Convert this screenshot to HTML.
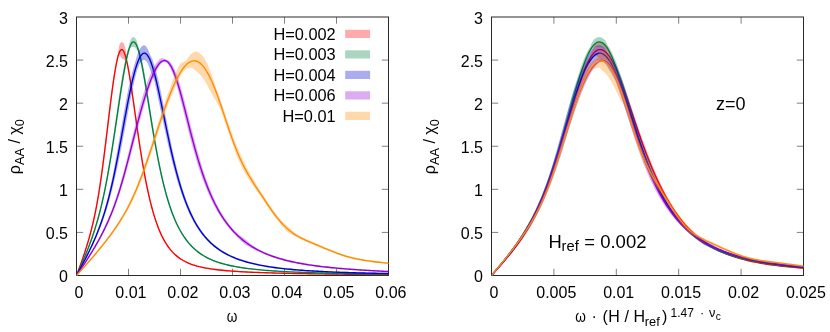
<!DOCTYPE html>
<html><head><meta charset="utf-8"><title>plot</title>
<style>html,body{margin:0;padding:0;background:#fff}svg{display:block;will-change:transform}</style>
</head><body>
<svg width="830" height="332" viewBox="0 0 830 332"
 font-family="'Liberation Sans', sans-serif" font-size="16" fill="#000">
<defs>
<clipPath id="c1"><rect x="76.5" y="17.0" width="312.0" height="259.0"/></clipPath>
<clipPath id="c2"><rect x="491.5" y="17.0" width="312.0" height="259.0"/></clipPath>
</defs>
<rect width="830" height="332" fill="#fff"/>
<path d="M76.5,232.42h6.7M388.5,232.42h-6.7M76.5,189.33h6.7M388.5,189.33h-6.7M76.5,146.25h6.7M388.5,146.25h-6.7M76.5,103.17h6.7M388.5,103.17h-6.7M76.5,60.08h6.7M388.5,60.08h-6.7M128.50,275.5v-6.7M128.50,17.0v6.7M180.50,275.5v-6.7M180.50,17.0v6.7M232.50,275.5v-6.7M232.50,17.0v6.7M284.50,275.5v-6.7M284.50,17.0v6.7M336.50,275.5v-6.7M336.50,17.0v6.7" stroke="#000" stroke-width="0.5" fill="none"/>
<rect x="76.5" y="17.0" width="312.0" height="258.50" fill="none" stroke="#2a2a2a" stroke-width="1"/>
<text x="68.0" y="282.1" text-anchor="end">0</text>
<text x="68.0" y="239.0" text-anchor="end">0.5</text>
<text x="68.0" y="195.9" text-anchor="end">1</text>
<text x="68.0" y="152.8" text-anchor="end">1.5</text>
<text x="68.0" y="109.8" text-anchor="end">2</text>
<text x="68.0" y="66.7" text-anchor="end">2.5</text>
<text x="68.0" y="23.6" text-anchor="end">3</text>
<text x="78.90" y="298.4" text-anchor="middle">0</text>
<text x="130.90" y="298.4" text-anchor="middle">0.01</text>
<text x="182.90" y="298.4" text-anchor="middle">0.02</text>
<text x="234.90" y="298.4" text-anchor="middle">0.03</text>
<text x="286.90" y="298.4" text-anchor="middle">0.04</text>
<text x="338.90" y="298.4" text-anchor="middle">0.05</text>
<text x="390.90" y="298.4" text-anchor="middle">0.06</text>
<path d="M491.5,232.42h6.7M803.5,232.42h-6.7M491.5,189.33h6.7M803.5,189.33h-6.7M491.5,146.25h6.7M803.5,146.25h-6.7M491.5,103.17h6.7M803.5,103.17h-6.7M491.5,60.08h6.7M803.5,60.08h-6.7M553.90,275.5v-6.7M553.90,17.0v6.7M616.30,275.5v-6.7M616.30,17.0v6.7M678.70,275.5v-6.7M678.70,17.0v6.7M741.10,275.5v-6.7M741.10,17.0v6.7" stroke="#000" stroke-width="0.5" fill="none"/>
<rect x="491.5" y="17.0" width="312.0" height="258.50" fill="none" stroke="#2a2a2a" stroke-width="1"/>
<text x="483.0" y="282.1" text-anchor="end">0</text>
<text x="483.0" y="239.0" text-anchor="end">0.5</text>
<text x="483.0" y="195.9" text-anchor="end">1</text>
<text x="483.0" y="152.8" text-anchor="end">1.5</text>
<text x="483.0" y="109.8" text-anchor="end">2</text>
<text x="483.0" y="66.7" text-anchor="end">2.5</text>
<text x="483.0" y="23.6" text-anchor="end">3</text>
<text x="493.90" y="298.4" text-anchor="middle">0</text>
<text x="556.30" y="298.4" text-anchor="middle">0.005</text>
<text x="618.70" y="298.4" text-anchor="middle">0.01</text>
<text x="681.10" y="298.4" text-anchor="middle">0.015</text>
<text x="743.50" y="298.4" text-anchor="middle">0.02</text>
<text x="805.90" y="298.4" text-anchor="middle">0.025</text>
<g clip-path="url(#c1)">
<path d="M76.50,275.50L77.36,273.06L78.22,270.61L79.08,268.16L79.92,265.71L80.75,263.25L81.57,260.80L82.38,258.35L83.17,255.90L83.95,253.45L84.72,251.01L85.47,248.56L86.20,246.12L86.92,243.69L87.62,241.26L88.30,238.84L88.97,236.43L89.62,234.03L90.25,231.64L90.87,229.24L91.47,226.84L92.05,224.42L92.62,222.00L93.17,219.57L93.71,217.13L94.23,214.69L94.73,212.23L95.22,209.77L95.70,207.31L96.16,204.83L96.61,202.35L97.05,199.87L97.48,197.38L97.90,194.89L98.31,192.39L98.71,189.89L99.10,187.39L99.48,184.88L99.86,182.38L100.22,179.87L100.58,177.37L100.94,174.86L101.29,172.36L101.63,169.85L101.97,167.34L102.30,164.84L102.63,162.34L102.96,159.83L103.28,157.33L103.60,154.83L103.91,152.33L104.22,149.84L104.53,147.34L104.84,144.85L105.15,142.36L105.45,139.87L105.75,137.39L106.05,134.91L106.35,132.43L106.65,129.95L106.95,127.47L107.25,125.00L107.54,122.53L107.84,120.07L108.14,117.61L108.44,115.15L108.73,112.70L109.03,110.26L109.33,107.82L109.63,105.38L109.94,102.96L110.24,100.54L110.55,98.12L110.86,95.72L111.17,93.32L111.49,90.93L111.81,88.55L112.13,86.17L112.46,83.81L112.79,81.47L113.13,79.13L113.48,76.81L113.84,74.50L114.20,72.22L114.58,69.95L114.97,67.71L115.37,65.50L115.79,63.33L116.23,61.20L116.69,59.13L117.18,57.14L117.70,54.52L118.25,51.26L118.81,47.93L119.37,45.20L119.87,44.04L120.28,43.29L120.63,42.80L120.94,42.47L121.25,42.24L121.57,42.11L121.91,42.08L122.23,42.15L122.54,42.32L122.86,42.58L123.20,42.99L123.61,43.62L124.11,44.61L124.68,46.02L125.27,47.89L125.83,51.34L126.37,55.28L126.88,58.75L127.37,61.13L127.83,63.28L128.28,65.47L128.71,67.71L129.12,69.97L129.52,72.26L129.92,74.57L130.30,76.90L130.68,79.24L131.06,81.60L131.42,83.98L131.79,86.36L132.14,88.76L132.50,91.17L132.85,93.59L133.20,96.01L133.55,98.44L133.90,100.88L134.25,103.33L134.60,105.78L134.94,108.24L135.29,110.70L135.64,113.17L135.99,115.63L136.34,118.10L136.69,120.58L137.04,123.05L137.39,125.53L137.75,128.00L138.11,130.48L138.47,132.96L138.83,135.44L139.20,137.92L139.57,140.41L139.94,142.89L140.32,145.37L140.70,147.85L141.09,150.34L141.48,152.82L141.88,155.30L142.28,157.78L142.69,160.26L143.11,162.74L143.53,165.22L143.96,167.70L144.40,170.17L144.84,172.64L145.30,175.11L145.76,177.58L146.23,180.04L146.71,182.50L147.21,184.95L147.71,187.40L148.23,189.85L148.75,192.29L149.30,194.72L149.85,197.15L150.42,199.57L151.01,201.98L151.62,204.38L152.24,206.77L152.88,209.15L153.54,211.51L154.23,213.86L154.93,216.19L155.66,218.51L156.42,220.81L157.21,223.08L158.02,225.33L158.87,227.55L159.75,229.74L160.66,231.90L161.61,234.02L162.60,236.10L163.63,238.14L164.71,240.12L165.83,242.05L166.99,243.92L168.20,245.73L169.47,247.48L170.78,249.15L172.14,250.75L173.56,252.28L175.03,253.73L176.56,255.10L178.14,256.40L179.78,257.62L181.48,258.76L183.23,259.83L185.05,260.82L186.91,261.75L188.84,262.61L190.81,263.41L192.84,264.14L194.92,264.82L197.04,265.44L199.19,266.01L201.39,266.53L203.62,267.01L205.88,267.46L208.16,267.86L210.47,268.23L212.80,268.57L215.15,268.89L217.51,269.18L219.89,269.45L222.27,269.69L224.67,269.92L227.08,270.14L229.50,270.33L231.92,270.52L234.35,270.69L236.78,270.85L239.22,271.00L241.67,271.15L244.11,271.28L246.56,271.40L249.02,271.52L251.47,271.63L253.93,271.74L256.39,271.84L258.85,271.94L261.32,272.03L263.78,272.11L266.25,272.19L268.72,272.27L271.19,272.35L273.66,272.42L276.13,272.48L278.60,272.55L281.07,272.61L283.55,272.67L286.02,272.73L288.50,272.79L290.97,272.84L293.45,272.89L295.93,272.94L298.40,272.99L300.88,273.03L303.36,273.08L305.84,273.12L308.32,273.16L310.79,273.20L313.27,273.24L315.75,273.28L318.23,273.32L320.71,273.35L323.19,273.39L325.67,273.42L328.15,273.45L330.63,273.49L333.11,273.52L335.60,273.55L338.08,273.57L340.56,273.60L343.04,273.63L345.52,273.66L348.00,273.68L350.48,273.71L352.97,273.73L355.45,273.76L357.93,273.78L360.41,273.81L362.89,273.83L365.38,273.85L367.86,273.87L370.34,273.89L372.82,273.91L375.31,273.93L377.79,273.95L380.27,273.97L382.75,273.99L385.24,274.01L387.72,274.03L390.20,274.05L392.68,274.06L395.17,274.08L397.65,274.10L400.13,274.11L402.62,274.13L405.10,274.14L407.58,274.16L410.07,274.17L412.55,274.19L415.03,274.20L417.52,274.22L420.00,274.23L420.00,275.23L417.52,275.22L415.03,275.21L412.55,275.20L410.07,275.19L407.58,275.18L405.10,275.17L402.62,275.16L400.13,275.15L397.65,275.13L395.17,275.12L392.68,275.11L390.20,275.09L387.72,275.08L385.24,275.07L382.75,275.05L380.27,275.04L377.79,275.02L375.31,275.00L372.82,274.99L370.34,274.97L367.86,274.95L365.38,274.93L362.89,274.91L360.41,274.90L357.93,274.88L355.45,274.85L352.97,274.83L350.48,274.81L348.00,274.79L345.52,274.76L343.04,274.74L340.56,274.72L338.08,274.69L335.60,274.66L333.11,274.64L330.63,274.61L328.15,274.58L325.67,274.55L323.19,274.52L320.71,274.48L318.23,274.45L315.75,274.42L313.27,274.38L310.79,274.34L308.32,274.31L305.84,274.27L303.36,274.22L300.88,274.18L298.40,274.14L295.93,274.09L293.45,274.04L290.97,273.99L288.50,273.94L286.02,273.89L283.55,273.83L281.07,273.77L278.60,273.71L276.13,273.65L273.66,273.58L271.19,273.51L268.72,273.44L266.25,273.36L263.78,273.28L261.32,273.20L258.85,273.11L256.39,273.02L253.93,272.92L251.47,272.81L249.02,272.70L246.56,272.58L244.11,272.46L241.67,272.33L239.22,272.19L236.78,272.04L234.35,271.88L231.92,271.71L229.50,271.52L227.08,271.33L224.67,271.11L222.27,270.89L219.89,270.64L217.51,270.37L215.15,270.09L212.80,269.77L210.47,269.44L208.16,269.07L205.88,268.67L203.62,268.23L201.39,267.76L199.19,267.24L197.04,266.68L194.92,266.06L192.84,265.40L190.81,264.68L188.84,263.91L186.91,263.07L185.05,262.17L183.23,261.20L181.48,260.17L179.78,259.07L178.14,257.90L176.56,256.66L175.03,255.35L173.56,253.98L172.14,252.53L170.78,251.01L169.47,249.43L168.20,247.79L166.99,246.09L165.83,244.33L164.71,242.52L163.63,240.65L162.60,238.75L161.61,236.80L160.66,234.82L159.75,232.80L158.87,230.75L158.02,228.68L157.21,226.57L156.42,224.45L155.66,222.30L154.93,220.13L154.23,217.95L153.54,215.75L152.88,213.54L152.24,211.31L151.62,209.07L151.01,206.82L150.42,204.56L149.85,202.29L149.30,200.01L148.75,197.72L148.23,195.42L147.71,193.12L147.21,190.81L146.71,188.50L146.23,186.17L145.76,183.85L145.30,181.51L144.84,179.17L144.40,176.83L143.96,174.48L143.53,172.13L143.11,169.77L142.69,167.41L142.28,165.04L141.88,162.67L141.48,160.29L141.09,157.92L140.70,155.53L140.32,153.14L139.94,150.75L139.57,148.36L139.20,145.96L138.83,143.55L138.47,141.14L138.11,138.73L137.75,136.32L137.39,133.90L137.04,131.47L136.69,129.04L136.34,126.61L135.99,124.17L135.64,121.72L135.29,119.27L134.94,116.82L134.60,114.36L134.25,111.90L133.90,109.43L133.55,106.96L133.20,104.49L132.85,102.01L132.50,99.53L132.14,97.05L131.79,94.57L131.42,92.08L131.06,89.58L130.68,87.09L130.30,84.59L129.92,82.08L129.52,79.58L129.12,77.07L128.71,74.57L128.28,72.06L127.83,69.56L127.37,67.07L126.88,64.61L126.37,62.84L125.83,61.94L125.27,61.21L124.68,60.30L124.11,59.63L123.61,59.22L123.20,58.98L122.86,58.84L122.54,58.73L122.23,58.65L121.91,58.55L121.57,58.25L121.25,57.75L120.94,57.16L120.63,56.54L120.28,55.93L119.87,55.44L119.37,55.44L118.81,56.19L118.25,57.81L117.70,60.10L117.18,62.50L116.69,64.96L116.23,67.45L115.79,69.97L115.37,72.49L114.97,75.02L114.58,77.55L114.20,80.08L113.84,82.61L113.48,85.14L113.13,87.67L112.79,90.19L112.46,92.71L112.13,95.22L111.81,97.74L111.49,100.25L111.17,102.75L110.86,105.25L110.55,107.75L110.24,110.25L109.94,112.74L109.63,115.23L109.33,117.71L109.03,120.20L108.73,122.68L108.44,125.15L108.14,127.62L107.84,130.09L107.54,132.56L107.25,135.02L106.95,137.48L106.65,139.93L106.35,142.38L106.05,144.82L105.75,147.26L105.45,149.69L105.15,152.12L104.84,154.54L104.53,156.96L104.22,159.38L103.91,161.79L103.60,164.19L103.28,166.60L102.96,168.99L102.63,171.38L102.30,173.77L101.97,176.15L101.63,178.52L101.29,180.89L100.94,183.26L100.58,185.62L100.22,187.97L99.86,190.32L99.48,192.66L99.10,195.00L98.71,197.33L98.31,199.66L97.90,201.98L97.48,204.29L97.05,206.60L96.61,208.90L96.16,211.20L95.70,213.50L95.22,215.79L94.73,218.07L94.23,220.36L93.71,222.64L93.17,224.91L92.62,227.19L92.05,229.46L91.47,231.73L90.87,234.00L90.25,236.27L89.62,238.53L88.97,240.78L88.30,243.01L87.62,245.22L86.92,247.41L86.20,249.59L85.47,251.76L84.72,253.91L83.95,256.06L83.17,258.21L82.38,260.35L81.57,262.49L80.75,264.63L79.92,266.78L79.08,268.94L78.22,271.11L77.36,273.30L76.50,275.50Z" fill="#ff0000" fill-opacity="0.33"/>
<path d="M76.50,275.50L77.36,273.18L78.22,270.86L79.08,268.55L79.92,266.24L80.75,263.94L81.57,261.65L82.38,259.35L83.17,257.05L83.95,254.76L84.72,252.46L85.47,250.16L86.20,247.86L86.92,245.55L87.62,243.24L88.30,240.92L88.97,238.60L89.62,236.28L90.25,233.95L90.87,231.62L91.47,229.28L92.05,226.94L92.62,224.59L93.17,222.24L93.71,219.88L94.23,217.52L94.73,215.15L95.22,212.78L95.70,210.40L96.16,208.02L96.61,205.63L97.05,203.23L97.48,200.83L97.90,198.43L98.31,196.02L98.71,193.61L99.10,191.19L99.48,188.77L99.86,186.35L100.22,183.92L100.58,181.49L100.94,179.06L101.29,176.62L101.63,174.19L101.97,171.75L102.30,169.30L102.63,166.86L102.96,164.41L103.28,161.96L103.60,159.51L103.91,157.06L104.22,154.61L104.53,152.15L104.84,149.70L105.15,147.24L105.45,144.78L105.75,142.32L106.05,139.86L106.35,137.40L106.65,134.94L106.95,132.47L107.25,130.01L107.54,127.55L107.84,125.08L108.14,122.62L108.44,120.15L108.73,117.69L109.03,115.23L109.33,112.77L109.63,110.31L109.94,107.85L110.24,105.39L110.55,102.94L110.86,100.48L111.17,98.03L111.49,95.59L111.81,93.14L112.13,90.70L112.46,88.26L112.79,85.83L113.13,83.40L113.48,80.97L113.84,78.56L114.20,76.15L114.58,73.75L114.97,71.37L115.37,69.00L115.79,66.65L116.23,64.33L116.69,62.05L117.18,59.82L117.70,57.68L118.25,55.67L118.81,53.88L119.37,52.41L119.87,51.35L120.28,50.66L120.63,50.21L120.94,49.90L121.25,49.69L121.57,49.58L121.91,49.57L122.23,49.67L122.54,49.87L122.86,50.16L123.20,50.59L123.61,51.25L124.11,52.28L124.68,53.71L125.27,55.48L125.83,57.48L126.37,59.61L126.88,61.83L127.37,64.10L127.83,66.42L128.28,68.77L128.71,71.14L129.12,73.52L129.52,75.92L129.92,78.33L130.30,80.74L130.68,83.16L131.06,85.59L131.42,88.03L131.79,90.46L132.14,92.91L132.50,95.35L132.85,97.80L133.20,100.25L133.55,102.70L133.90,105.16L134.25,107.61L134.60,110.07L134.94,112.53L135.29,114.99L135.64,117.44L135.99,119.90L136.34,122.35L136.69,124.81L137.04,127.26L137.39,129.71L137.75,132.16L138.11,134.61L138.47,137.05L138.83,139.50L139.20,141.94L139.57,144.38L139.94,146.82L140.32,149.26L140.70,151.69L141.09,154.13L141.48,156.56L141.88,158.99L142.28,161.41L142.69,163.83L143.11,166.26L143.53,168.67L143.96,171.09L144.40,173.50L144.84,175.91L145.30,178.31L145.76,180.71L146.23,183.11L146.71,185.50L147.21,187.88L147.71,190.26L148.23,192.64L148.75,195.00L149.30,197.37L149.85,199.72L150.42,202.06L151.01,204.40L151.62,206.72L152.24,209.04L152.88,211.34L153.54,213.63L154.23,215.91L154.93,218.16L155.66,220.41L156.42,222.63L157.21,224.83L158.02,227.00L158.87,229.15L159.75,231.27L160.66,233.36L161.61,235.41L162.60,237.43L163.63,239.40L164.71,241.32L165.83,243.19L166.99,245.00L168.20,246.76L169.47,248.45L170.78,250.08L172.14,251.64L173.56,253.13L175.03,254.54L176.56,255.88L178.14,257.15L179.78,258.34L181.48,259.47L183.23,260.52L185.05,261.50L186.91,262.41L188.84,263.26L190.81,264.04L192.84,264.77L194.92,265.44L197.04,266.06L199.19,266.62L201.39,267.14L203.62,267.62L205.88,268.06L208.16,268.46L210.47,268.83L212.80,269.17L215.15,269.49L217.51,269.78L219.89,270.04L222.27,270.29L224.67,270.52L227.08,270.73L229.50,270.93L231.92,271.11L234.35,271.28L236.78,271.44L239.22,271.60L241.67,271.74L244.11,271.87L246.56,271.99L249.02,272.11L251.47,272.22L253.93,272.33L256.39,272.43L258.85,272.52L261.32,272.61L263.78,272.70L266.25,272.78L268.72,272.86L271.19,272.93L273.66,273.00L276.13,273.07L278.60,273.13L281.07,273.19L283.55,273.25L286.02,273.31L288.50,273.36L290.97,273.42L293.45,273.47L295.93,273.52L298.40,273.56L300.88,273.61L303.36,273.65L305.84,273.69L308.32,273.73L310.79,273.77L313.27,273.81L315.75,273.85L318.23,273.88L320.71,273.92L323.19,273.95L325.67,273.98L328.15,274.02L330.63,274.05L333.11,274.08L335.60,274.10L338.08,274.13L340.56,274.16L343.04,274.19L345.52,274.21L348.00,274.24L350.48,274.26L352.97,274.28L355.45,274.31L357.93,274.33L360.41,274.35L362.89,274.37L365.38,274.39L367.86,274.41L370.34,274.43L372.82,274.45L375.31,274.47L377.79,274.49L380.27,274.50L382.75,274.52L385.24,274.54L387.72,274.55L390.20,274.57L392.68,274.59L395.17,274.60L397.65,274.62L400.13,274.63L402.62,274.64L405.10,274.66L407.58,274.67L410.07,274.68L412.55,274.70L415.03,274.71L417.52,274.72L420.00,274.73" fill="none" stroke="#ff0000" stroke-width="1.35" stroke-linejoin="round"/>
<path d="M76.50,275.50L77.51,273.11L78.52,270.72L79.52,268.34L80.51,265.96L81.48,263.60L82.45,261.24L83.41,258.88L84.35,256.53L85.27,254.19L86.18,251.85L87.08,249.52L87.96,247.20L88.82,244.88L89.66,242.57L90.49,240.27L91.30,237.96L92.09,235.64L92.87,233.32L93.63,230.99L94.37,228.66L95.09,226.32L95.80,223.97L96.49,221.61L97.16,219.25L97.82,216.88L98.46,214.50L99.09,212.11L99.70,209.72L100.29,207.31L100.87,204.91L101.44,202.49L102.00,200.07L102.54,197.64L103.07,195.20L103.59,192.76L104.10,190.32L104.59,187.87L105.08,185.41L105.56,182.95L106.03,180.49L106.49,178.02L106.94,175.55L107.39,173.08L107.82,170.60L108.25,168.12L108.68,165.64L109.10,163.16L109.51,160.67L109.92,158.19L110.32,155.69L110.72,153.19L111.11,150.69L111.50,148.17L111.89,145.65L112.27,143.12L112.65,140.59L113.03,138.05L113.40,135.51L113.77,132.97L114.14,130.42L114.51,127.88L114.88,125.33L115.24,122.79L115.60,120.24L115.96,117.70L116.33,115.16L116.69,112.63L117.05,110.10L117.41,107.58L117.77,105.07L118.13,102.57L118.49,100.07L118.85,97.59L119.21,95.13L119.58,92.67L119.94,90.23L120.31,87.81L120.69,85.41L121.06,83.02L121.44,80.66L121.82,78.31L122.21,75.99L122.60,73.68L123.00,71.39L123.41,69.12L123.82,66.87L124.25,64.64L124.68,62.43L125.13,60.25L125.59,58.10L126.07,55.99L126.56,53.93L127.08,51.93L127.62,49.99L128.19,48.15L128.79,46.17L129.42,43.20L130.07,40.88L130.72,39.51L131.31,38.56L131.83,37.95L132.27,37.58L132.66,37.34L133.04,37.19L133.42,37.12L133.80,37.14L134.18,37.27L134.57,37.50L134.98,37.87L135.45,38.44L136.01,39.31L136.63,40.54L137.29,42.72L137.94,45.57L138.57,47.22L139.17,49.02L139.74,50.92L140.28,52.90L140.80,54.95L141.29,57.05L141.78,59.19L142.24,61.37L142.70,63.58L143.14,65.82L143.58,68.08L144.01,70.36L144.43,72.66L144.84,74.98L145.25,77.31L145.66,79.67L146.06,82.04L146.46,84.44L146.85,86.85L147.25,89.28L147.64,91.72L148.03,94.18L148.42,96.65L148.81,99.14L149.20,101.63L149.59,104.13L149.98,106.64L150.38,109.15L150.77,111.67L151.16,114.20L151.56,116.73L151.96,119.26L152.36,121.79L152.76,124.32L153.17,126.86L153.58,129.39L153.99,131.93L154.41,134.46L154.83,136.99L155.26,139.52L155.69,142.04L156.13,144.56L156.57,147.08L157.02,149.58L157.48,152.09L157.94,154.58L158.41,157.06L158.89,159.54L159.37,162.01L159.87,164.46L160.37,166.91L160.88,169.35L161.41,171.78L161.94,174.22L162.49,176.64L163.04,179.07L163.61,181.48L164.20,183.89L164.79,186.30L165.41,188.69L166.03,191.08L166.68,193.45L167.34,195.82L168.02,198.17L168.72,200.51L169.44,202.84L170.19,205.16L170.95,207.45L171.74,209.73L172.56,211.99L173.40,214.23L174.27,216.45L175.17,218.64L176.11,220.81L177.07,222.94L178.07,225.05L179.10,227.12L180.17,229.15L181.28,231.14L182.43,233.09L183.62,235.00L184.86,236.86L186.13,238.66L187.45,240.42L188.82,242.12L190.23,243.76L191.69,245.35L193.19,246.87L194.74,248.34L196.34,249.74L197.99,251.08L199.69,252.36L201.43,253.58L203.22,254.73L205.05,255.83L206.93,256.87L208.85,257.85L210.81,258.77L212.82,259.64L214.86,260.46L216.94,261.23L219.05,261.95L221.19,262.63L223.36,263.26L225.56,263.85L227.78,264.41L230.02,264.93L232.29,265.41L234.57,265.87L236.87,266.30L239.19,266.69L241.52,267.07L243.86,267.42L246.21,267.75L248.58,268.06L250.95,268.35L253.33,268.62L255.72,268.88L258.11,269.12L260.51,269.35L262.92,269.56L265.33,269.77L267.75,269.96L270.17,270.14L272.59,270.31L275.02,270.48L277.45,270.63L279.88,270.78L282.31,270.92L284.75,271.06L287.19,271.18L289.63,271.30L292.07,271.42L294.52,271.53L296.96,271.64L299.41,271.74L301.86,271.83L304.31,271.92L306.76,272.01L309.21,272.10L311.67,272.18L314.12,272.26L316.57,272.33L319.03,272.40L321.49,272.47L323.94,272.54L326.40,272.60L328.86,272.66L331.32,272.72L333.77,272.78L336.23,272.83L338.69,272.88L341.15,272.93L343.61,272.98L346.08,273.03L348.54,273.08L351.00,273.12L353.46,273.16L355.92,273.20L358.38,273.24L360.85,273.28L363.31,273.32L365.77,273.35L368.24,273.39L370.70,273.42L373.16,273.45L375.63,273.49L378.09,273.52L380.56,273.55L383.02,273.58L385.48,273.60L387.95,273.63L390.41,273.66L392.88,273.68L395.34,273.71L397.81,273.73L400.27,273.75L402.74,273.78L405.21,273.80L407.67,273.82L410.14,273.84L412.60,273.86L415.07,273.88L417.53,273.90L420.00,273.92L420.00,274.92L417.53,274.90L415.07,274.88L412.60,274.86L410.14,274.84L407.67,274.82L405.21,274.80L402.74,274.78L400.27,274.75L397.81,274.73L395.34,274.71L392.88,274.68L390.41,274.66L387.95,274.63L385.48,274.61L383.02,274.58L380.56,274.55L378.09,274.52L375.63,274.49L373.16,274.46L370.70,274.43L368.24,274.40L365.77,274.36L363.31,274.33L360.85,274.29L358.38,274.25L355.92,274.22L353.46,274.18L351.00,274.13L348.54,274.09L346.08,274.05L343.61,274.00L341.15,273.95L338.69,273.90L336.23,273.85L333.77,273.80L331.32,273.75L328.86,273.69L326.40,273.63L323.94,273.57L321.49,273.50L319.03,273.44L316.57,273.37L314.12,273.30L311.67,273.22L309.21,273.14L306.76,273.06L304.31,272.98L301.86,272.89L299.41,272.79L296.96,272.69L294.52,272.59L292.07,272.49L289.63,272.37L287.19,272.26L284.75,272.13L282.31,272.00L279.88,271.86L277.45,271.72L275.02,271.57L272.59,271.41L270.17,271.24L267.75,271.06L265.33,270.87L262.92,270.68L260.51,270.46L258.11,270.24L255.72,270.00L253.33,269.75L250.95,269.48L248.58,269.20L246.21,268.90L243.86,268.58L241.52,268.23L239.19,267.86L236.87,267.47L234.57,267.06L232.29,266.61L230.02,266.13L227.78,265.62L225.56,265.08L223.36,264.50L221.19,263.88L219.05,263.22L216.94,262.51L214.86,261.76L212.82,260.96L210.81,260.11L208.85,259.21L206.93,258.26L205.05,257.26L203.22,256.19L201.43,255.08L199.69,253.90L197.99,252.67L196.34,251.39L194.74,250.04L193.19,248.64L191.69,247.19L190.23,245.68L188.82,244.12L187.45,242.50L186.13,240.84L184.86,239.13L183.62,237.37L182.43,235.58L181.28,233.74L180.17,231.86L179.10,229.95L178.07,228.01L177.07,226.04L176.11,224.04L175.17,222.01L174.27,219.96L173.40,217.89L172.56,215.79L171.74,213.68L170.95,211.55L170.19,209.40L169.44,207.24L168.72,205.06L168.02,202.88L167.34,200.68L166.68,198.46L166.03,196.24L165.41,194.01L164.79,191.77L164.20,189.52L163.61,187.27L163.04,185.00L162.49,182.73L161.94,180.45L161.41,178.17L160.88,175.88L160.37,173.58L159.87,171.28L159.37,168.98L158.89,166.68L158.41,164.39L157.94,162.09L157.48,159.80L157.02,157.51L156.57,155.22L156.13,152.93L155.69,150.64L155.26,148.35L154.83,146.06L154.41,143.77L153.99,141.48L153.58,139.18L153.17,136.88L152.76,134.57L152.36,132.26L151.96,129.95L151.56,127.63L151.16,125.30L150.77,122.97L150.38,120.63L149.98,118.28L149.59,115.92L149.20,113.55L148.81,111.18L148.42,108.79L148.03,106.40L147.64,103.99L147.25,101.57L146.85,99.15L146.46,96.71L146.06,94.26L145.66,91.80L145.25,89.33L144.84,86.84L144.43,84.35L144.01,81.85L143.58,79.34L143.14,76.83L142.70,74.31L142.24,71.79L141.78,69.26L141.29,66.74L140.80,64.21L140.28,61.69L139.74,59.18L139.17,56.70L138.57,54.26L137.94,51.90L137.29,50.61L136.63,49.66L136.01,48.68L135.45,48.00L134.98,47.56L134.57,47.28L134.18,47.11L133.80,47.02L133.42,47.02L133.04,47.06L132.66,47.07L132.27,47.07L131.83,47.11L131.31,47.27L130.72,47.70L130.07,48.81L129.42,50.93L128.79,53.24L128.19,55.66L127.62,58.14L127.08,60.66L126.56,63.19L126.07,65.73L125.59,68.27L125.13,70.82L124.68,73.36L124.25,75.89L123.82,78.43L123.41,80.95L123.00,83.47L122.60,85.99L122.21,88.50L121.82,91.01L121.44,93.50L121.06,95.97L120.69,98.43L120.31,100.88L119.94,103.31L119.58,105.74L119.21,108.15L118.85,110.55L118.49,112.94L118.13,115.32L117.77,117.70L117.41,120.06L117.05,122.42L116.69,124.77L116.33,127.12L115.96,129.46L115.60,131.79L115.24,134.12L114.88,136.45L114.51,138.77L114.14,141.09L113.77,143.40L113.40,145.72L113.03,148.04L112.65,150.35L112.27,152.67L111.89,154.99L111.50,157.31L111.11,159.63L110.72,161.96L110.32,164.29L109.92,166.63L109.51,168.96L109.10,171.30L108.68,173.63L108.25,175.95L107.82,178.27L107.39,180.59L106.94,182.91L106.49,185.22L106.03,187.53L105.56,189.84L105.08,192.14L104.59,194.43L104.10,196.73L103.59,199.02L103.07,201.30L102.54,203.58L102.00,205.85L101.44,208.12L100.87,210.39L100.29,212.65L99.70,214.90L99.09,217.15L98.46,219.40L97.82,221.64L97.16,223.88L96.49,226.11L95.80,228.34L95.09,230.56L94.37,232.78L93.63,235.00L92.87,237.21L92.09,239.41L91.30,241.61L90.49,243.80L89.66,245.99L88.82,248.16L87.96,250.31L87.08,252.45L86.18,254.58L85.27,256.69L84.35,258.79L83.41,260.89L82.45,262.98L81.48,265.06L80.51,267.14L79.52,269.23L78.52,271.31L77.51,273.40L76.50,275.50Z" fill="#008040" fill-opacity="0.33"/>
<path d="M76.50,275.50L77.51,273.25L78.52,271.02L79.52,268.78L80.51,266.55L81.48,264.33L82.45,262.11L83.41,259.88L84.35,257.66L85.27,255.44L86.18,253.21L87.08,250.99L87.96,248.76L88.82,246.52L89.66,244.28L90.49,242.03L91.30,239.78L92.09,237.53L92.87,235.26L93.63,233.00L94.37,230.72L95.09,228.44L95.80,226.15L96.49,223.86L97.16,221.56L97.82,219.26L98.46,216.95L99.09,214.63L99.70,212.31L100.29,209.98L100.87,207.65L101.44,205.31L102.00,202.96L102.54,200.61L103.07,198.25L103.59,195.89L104.10,193.52L104.59,191.15L105.08,188.78L105.56,186.39L106.03,184.01L106.49,181.62L106.94,179.23L107.39,176.84L107.82,174.44L108.25,172.04L108.68,169.63L109.10,167.23L109.51,164.82L109.92,162.41L110.32,159.99L110.72,157.58L111.11,155.16L111.50,152.74L111.89,150.32L112.27,147.89L112.65,145.47L113.03,143.04L113.40,140.61L113.77,138.18L114.14,135.75L114.51,133.32L114.88,130.89L115.24,128.45L115.60,126.02L115.96,123.58L116.33,121.14L116.69,118.70L117.05,116.26L117.41,113.82L117.77,111.38L118.13,108.95L118.49,106.51L118.85,104.07L119.21,101.64L119.58,99.20L119.94,96.77L120.31,94.35L120.69,91.92L121.06,89.50L121.44,87.08L121.82,84.66L122.21,82.25L122.60,79.84L123.00,77.43L123.41,75.04L123.82,72.65L124.25,70.26L124.68,67.89L125.13,65.53L125.59,63.19L126.07,60.86L126.56,58.56L127.08,56.29L127.62,54.07L128.19,51.91L128.79,49.84L129.42,47.90L130.07,46.18L130.72,44.75L131.31,43.68L131.83,42.96L132.27,42.49L132.66,42.19L133.04,42.00L133.42,41.92L133.80,41.94L134.18,42.07L134.57,42.30L134.98,42.67L135.45,43.24L136.01,44.11L136.63,45.34L137.29,46.91L137.94,48.74L138.57,50.74L139.17,52.86L139.74,55.05L140.28,57.29L140.80,59.58L141.29,61.89L141.78,64.23L142.24,66.58L142.70,68.94L143.14,71.32L143.58,73.71L144.01,76.10L144.43,78.50L144.84,80.91L145.25,83.32L145.66,85.73L146.06,88.15L146.46,90.58L146.85,93.00L147.25,95.43L147.64,97.86L148.03,100.29L148.42,102.72L148.81,105.16L149.20,107.59L149.59,110.03L149.98,112.46L150.38,114.89L150.77,117.32L151.16,119.75L151.56,122.18L151.96,124.60L152.36,127.03L152.76,129.45L153.17,131.87L153.58,134.28L153.99,136.70L154.41,139.11L154.83,141.53L155.26,143.94L155.69,146.34L156.13,148.75L156.57,151.15L157.02,153.55L157.48,155.94L157.94,158.34L158.41,160.72L158.89,163.11L159.37,165.49L159.87,167.87L160.37,170.24L160.88,172.61L161.41,174.98L161.94,177.33L162.49,179.69L163.04,182.03L163.61,184.37L164.20,186.71L164.79,189.03L165.41,191.35L166.03,193.66L166.68,195.96L167.34,198.25L168.02,200.52L168.72,202.79L169.44,205.04L170.19,207.28L170.95,209.50L171.74,211.71L172.56,213.89L173.40,216.06L174.27,218.20L175.17,220.33L176.11,222.42L177.07,224.49L178.07,226.53L179.10,228.54L180.17,230.51L181.28,232.44L182.43,234.34L183.62,236.19L184.86,237.99L186.13,239.75L187.45,241.46L188.82,243.12L190.23,244.72L191.69,246.27L193.19,247.76L194.74,249.19L196.34,250.56L197.99,251.88L199.69,253.13L201.43,254.33L203.22,255.46L205.05,256.54L206.93,257.56L208.85,258.53L210.81,259.44L212.82,260.30L214.86,261.11L216.94,261.87L219.05,262.58L221.19,263.25L223.36,263.88L225.56,264.47L227.78,265.02L230.02,265.53L232.29,266.01L234.57,266.46L236.87,266.88L239.19,267.28L241.52,267.65L243.86,268.00L246.21,268.32L248.58,268.63L250.95,268.92L253.33,269.19L255.72,269.44L258.11,269.68L260.51,269.91L262.92,270.12L265.33,270.32L267.75,270.51L270.17,270.69L272.59,270.86L275.02,271.02L277.45,271.18L279.88,271.32L282.31,271.46L284.75,271.59L287.19,271.72L289.63,271.84L292.07,271.95L294.52,272.06L296.96,272.17L299.41,272.26L301.86,272.36L304.31,272.45L306.76,272.54L309.21,272.62L311.67,272.70L314.12,272.78L316.57,272.85L319.03,272.92L321.49,272.99L323.94,273.05L326.40,273.11L328.86,273.18L331.32,273.23L333.77,273.29L336.23,273.34L338.69,273.39L341.15,273.44L343.61,273.49L346.08,273.54L348.54,273.58L351.00,273.63L353.46,273.67L355.92,273.71L358.38,273.75L360.85,273.79L363.31,273.82L365.77,273.86L368.24,273.89L370.70,273.93L373.16,273.96L375.63,273.99L378.09,274.02L380.56,274.05L383.02,274.08L385.48,274.10L387.95,274.13L390.41,274.16L392.88,274.18L395.34,274.21L397.81,274.23L400.27,274.25L402.74,274.28L405.21,274.30L407.67,274.32L410.14,274.34L412.60,274.36L415.07,274.38L417.53,274.40L420.00,274.42" fill="none" stroke="#008040" stroke-width="1.35" stroke-linejoin="round"/>
<path d="M76.50,275.50L77.62,273.30L78.73,271.11L79.83,268.93L80.93,266.76L82.01,264.59L83.09,262.44L84.15,260.29L85.20,258.14L86.24,256.00L87.27,253.86L88.27,251.73L89.27,249.60L90.25,247.47L91.21,245.33L92.15,243.20L93.08,241.05L94.00,238.90L94.89,236.75L95.77,234.58L96.63,232.40L97.48,230.21L98.30,228.01L99.11,225.80L99.90,223.57L100.68,221.33L101.43,219.07L102.17,216.81L102.89,214.53L103.59,212.24L104.28,209.94L104.95,207.63L105.61,205.30L106.24,202.96L106.87,200.61L107.48,198.25L108.08,195.87L108.66,193.48L109.23,191.09L109.79,188.68L110.34,186.26L110.87,183.84L111.40,181.40L111.92,178.96L112.43,176.51L112.93,174.04L113.42,171.55L113.91,169.05L114.38,166.55L114.86,164.03L115.32,161.51L115.78,158.98L116.24,156.46L116.69,153.93L117.13,151.41L117.57,148.89L118.01,146.38L118.45,143.88L118.88,141.39L119.31,138.91L119.73,136.45L120.16,134.00L120.58,131.55L121.00,129.11L121.42,126.67L121.85,124.23L122.26,121.80L122.68,119.38L123.10,116.97L123.52,114.58L123.94,112.20L124.36,109.83L124.79,107.48L125.21,105.15L125.63,102.85L126.06,100.56L126.49,98.30L126.92,96.07L127.36,93.86L127.80,91.69L128.24,89.54L128.69,87.41L129.15,85.30L129.61,83.20L130.08,81.12L130.55,79.07L131.03,77.03L131.53,75.02L132.03,73.03L132.54,71.08L133.07,69.15L133.61,67.26L134.17,65.42L134.75,63.62L135.35,61.57L135.97,59.30L136.62,57.10L137.29,55.00L138.00,53.04L138.73,51.27L139.49,49.68L140.25,48.32L140.99,47.24L141.69,46.45L142.32,45.91L142.88,45.58L143.41,45.39L143.91,45.33L144.40,45.38L144.89,45.54L145.39,45.85L145.92,46.33L146.51,47.02L147.16,47.98L147.87,49.25L148.62,50.90L149.38,52.92L150.13,54.79L150.85,56.10L151.55,57.54L152.22,59.09L152.86,60.74L153.48,62.47L154.08,64.26L154.66,66.11L155.22,68.00L155.77,69.94L156.31,71.92L156.83,73.94L157.35,76.01L157.85,78.12L158.35,80.26L158.85,82.44L159.34,84.64L159.82,86.88L160.30,89.14L160.78,91.42L161.25,93.72L161.72,96.04L162.19,98.38L162.66,100.73L163.13,103.09L163.60,105.47L164.06,107.85L164.53,110.24L165.00,112.63L165.47,115.03L165.94,117.42L166.41,119.81L166.89,122.22L167.37,124.62L167.85,127.04L168.33,129.45L168.82,131.87L169.31,134.29L169.80,136.72L170.30,139.14L170.81,141.57L171.32,143.99L171.83,146.41L172.35,148.83L172.88,151.24L173.42,153.65L173.96,156.05L174.51,158.45L175.07,160.84L175.64,163.23L176.22,165.61L176.81,167.98L177.41,170.35L178.02,172.71L178.64,175.07L179.27,177.41L179.92,179.75L180.58,182.08L181.25,184.40L181.94,186.71L182.65,189.00L183.37,191.29L184.11,193.55L184.87,195.81L185.65,198.04L186.45,200.26L187.26,202.46L188.11,204.64L188.97,206.80L189.86,208.93L190.77,211.04L191.71,213.13L192.68,215.18L193.67,217.22L194.70,219.22L195.75,221.19L196.84,223.13L197.96,225.03L199.11,226.90L200.30,228.73L201.52,230.52L202.78,232.27L204.07,233.97L205.40,235.63L206.77,237.25L208.18,238.81L209.62,240.33L211.10,241.80L212.62,243.23L214.18,244.60L215.78,245.92L217.41,247.19L219.08,248.42L220.79,249.59L222.54,250.72L224.31,251.80L226.13,252.83L227.97,253.82L229.85,254.76L231.76,255.65L233.70,256.51L235.66,257.32L237.65,258.10L239.67,258.84L241.71,259.54L243.77,260.21L245.85,260.84L247.94,261.44L250.06,262.01L252.19,262.56L254.34,263.07L256.50,263.56L258.68,264.02L260.86,264.46L263.06,264.88L265.27,265.28L267.48,265.66L269.71,266.02L271.94,266.36L274.18,266.68L276.43,266.99L278.68,267.28L280.94,267.56L283.20,267.82L285.47,268.08L287.75,268.32L290.02,268.55L292.31,268.76L294.59,268.97L296.88,269.17L299.17,269.36L301.47,269.54L303.76,269.71L306.06,269.88L308.36,270.03L310.67,270.19L312.97,270.33L315.28,270.47L317.59,270.60L319.90,270.73L322.22,270.85L324.53,270.96L326.85,271.07L329.16,271.18L331.48,271.28L333.80,271.38L336.12,271.48L338.44,271.57L340.76,271.65L343.09,271.74L345.41,271.82L347.73,271.90L350.06,271.97L352.39,272.04L354.71,272.11L357.04,272.18L359.37,272.24L361.69,272.31L364.02,272.37L366.35,272.43L368.68,272.48L371.01,272.54L373.34,272.59L375.67,272.64L378.00,272.69L380.33,272.73L382.67,272.78L385.00,272.82L387.33,272.87L389.66,272.91L391.99,272.95L394.33,272.99L396.66,273.03L398.99,273.06L401.33,273.10L403.66,273.13L405.99,273.17L408.33,273.20L410.66,273.23L413.00,273.26L415.33,273.29L417.66,273.32L420.00,273.35L420.00,274.55L417.66,274.52L415.33,274.49L413.00,274.46L410.66,274.43L408.33,274.40L405.99,274.37L403.66,274.34L401.33,274.30L398.99,274.27L396.66,274.24L394.33,274.20L391.99,274.16L389.66,274.13L387.33,274.09L385.00,274.05L382.67,274.01L380.33,273.96L378.00,273.92L375.67,273.87L373.34,273.83L371.01,273.78L368.68,273.73L366.35,273.68L364.02,273.62L361.69,273.57L359.37,273.51L357.04,273.45L354.71,273.39L352.39,273.32L350.06,273.26L347.73,273.19L345.41,273.12L343.09,273.04L340.76,272.96L338.44,272.88L336.12,272.80L333.80,272.71L331.48,272.62L329.16,272.52L326.85,272.43L324.53,272.32L322.22,272.21L319.90,272.10L317.59,271.98L315.28,271.86L312.97,271.73L310.67,271.59L308.36,271.45L306.06,271.30L303.76,271.15L301.47,270.98L299.17,270.81L296.88,270.63L294.59,270.45L292.31,270.25L290.02,270.04L287.75,269.82L285.47,269.59L283.20,269.35L280.94,269.10L278.68,268.83L276.43,268.55L274.18,268.25L271.94,267.94L269.71,267.62L267.48,267.27L265.27,266.91L263.06,266.52L260.86,266.12L258.68,265.70L256.50,265.25L254.34,264.77L252.19,264.28L250.06,263.75L247.94,263.20L245.85,262.62L243.77,262.00L241.71,261.36L239.67,260.68L237.65,259.97L235.66,259.22L233.70,258.44L231.76,257.61L229.85,256.75L227.97,255.85L226.13,254.91L224.31,253.92L222.54,252.90L220.79,251.83L219.08,250.72L217.41,249.57L215.78,248.37L214.18,247.13L212.62,245.85L211.10,244.53L209.62,243.17L208.18,241.76L206.77,240.32L205.40,238.83L204.07,237.31L202.78,235.76L201.52,234.17L200.30,232.54L199.11,230.88L197.96,229.20L196.84,227.48L195.75,225.74L194.70,223.97L193.67,222.18L192.68,220.36L191.71,218.52L190.77,216.67L189.86,214.79L188.97,212.90L188.11,210.99L187.26,209.08L186.45,207.15L185.65,205.20L184.87,203.25L184.11,201.29L183.37,199.32L182.65,197.34L181.94,195.35L181.25,193.36L180.58,191.35L179.92,189.34L179.27,187.33L178.64,185.30L178.02,183.27L177.41,181.24L176.81,179.19L176.22,177.15L175.64,175.09L175.07,173.03L174.51,170.97L173.96,168.90L173.42,166.83L172.88,164.76L172.35,162.69L171.83,160.61L171.32,158.53L170.81,156.45L170.30,154.36L169.80,152.26L169.31,150.16L168.82,148.05L168.33,145.93L167.85,143.80L167.37,141.67L166.89,139.53L166.41,137.37L165.94,135.21L165.47,133.04L165.00,130.86L164.53,128.68L164.06,126.50L163.60,124.30L163.13,122.10L162.66,119.89L162.19,117.68L161.72,115.45L161.25,113.21L160.78,110.96L160.30,108.70L159.82,106.42L159.34,104.12L158.85,101.81L158.35,99.48L157.85,97.13L157.35,94.76L156.83,92.36L156.31,89.95L155.77,87.51L155.22,85.05L154.66,82.60L154.08,80.50L153.48,78.72L152.86,76.91L152.22,75.09L151.55,73.31L150.85,71.55L150.13,69.77L149.38,67.65L148.62,65.48L147.87,63.75L147.16,62.49L146.51,61.55L145.92,60.88L145.39,60.42L144.89,60.13L144.40,59.97L143.91,59.94L143.41,60.02L142.88,60.21L142.32,60.56L141.69,61.11L140.99,61.92L140.25,63.01L139.49,64.37L138.73,65.96L138.00,67.74L137.29,69.70L136.62,71.99L135.97,74.46L135.35,76.93L134.75,79.42L134.17,81.91L133.61,84.39L133.07,86.87L132.54,89.35L132.03,91.82L131.53,94.28L131.03,96.74L130.55,99.19L130.08,101.62L129.61,104.06L129.15,106.48L128.69,108.89L128.24,111.30L127.80,113.70L127.36,116.07L126.92,118.42L126.49,120.75L126.06,123.06L125.63,125.35L125.21,127.62L124.79,129.87L124.36,132.11L123.94,134.34L123.52,136.55L123.10,138.74L122.68,140.93L122.26,143.11L121.85,145.27L121.42,147.43L121.00,149.58L120.58,151.72L120.16,153.86L119.73,155.99L119.31,158.10L118.88,160.19L118.45,162.27L118.01,164.33L117.57,166.38L117.13,168.42L116.69,170.45L116.24,172.47L115.78,174.48L115.32,176.49L114.86,178.49L114.38,180.50L113.91,182.50L113.42,184.51L112.93,186.52L112.43,188.53L111.92,190.56L111.40,192.59L110.87,194.61L110.34,196.64L109.79,198.66L109.23,200.68L108.66,202.69L108.08,204.71L107.48,206.72L106.87,208.73L106.24,210.74L105.61,212.75L104.95,214.76L104.28,216.76L103.59,218.76L102.89,220.76L102.17,222.76L101.43,224.76L100.68,226.75L99.90,228.74L99.11,230.74L98.30,232.73L97.48,234.72L96.63,236.72L95.77,238.71L94.89,240.70L94.00,242.69L93.08,244.67L92.15,246.65L91.21,248.62L90.25,250.59L89.27,252.54L88.27,254.49L87.27,256.43L86.24,258.36L85.20,260.28L84.15,262.20L83.09,264.11L82.01,266.01L80.93,267.91L79.83,269.81L78.73,271.70L77.62,273.60L76.50,275.50Z" fill="#0000cd" fill-opacity="0.33"/>
<path d="M76.50,275.50L77.62,273.45L78.73,271.41L79.83,269.37L80.93,267.33L82.01,265.30L83.09,263.27L84.15,261.24L85.20,259.21L86.24,257.18L87.27,255.15L88.27,253.11L89.27,251.07L90.25,249.03L91.21,246.98L92.15,244.92L93.08,242.86L94.00,240.80L94.89,238.72L95.77,236.65L96.63,234.56L97.48,232.47L98.30,230.37L99.11,228.27L99.90,226.16L100.68,224.04L101.43,221.91L102.17,219.78L102.89,217.65L103.59,215.50L104.28,213.35L104.95,211.19L105.61,209.02L106.24,206.85L106.87,204.67L107.48,202.48L108.08,200.29L108.66,198.09L109.23,195.88L109.79,193.67L110.34,191.45L110.87,189.23L111.40,187.00L111.92,184.76L112.43,182.52L112.93,180.28L113.42,178.03L113.91,175.78L114.38,173.52L114.86,171.26L115.32,169.00L115.78,166.73L116.24,164.46L116.69,162.19L117.13,159.92L117.57,157.64L118.01,155.36L118.45,153.08L118.88,150.79L119.31,148.51L119.73,146.22L120.16,143.93L120.58,141.64L121.00,139.34L121.42,137.05L121.85,134.75L122.26,132.46L122.68,130.16L123.10,127.86L123.52,125.56L123.94,123.27L124.36,120.97L124.79,118.68L125.21,116.39L125.63,114.10L126.06,111.81L126.49,109.53L126.92,107.25L127.36,104.97L127.80,102.69L128.24,100.42L128.69,98.15L129.15,95.89L129.61,93.63L130.08,91.37L130.55,89.13L131.03,86.88L131.53,84.65L132.03,82.43L132.54,80.21L133.07,78.01L133.61,75.83L134.17,73.66L134.75,71.52L135.35,69.40L135.97,67.32L136.62,65.29L137.29,63.32L138.00,61.43L138.73,59.66L139.49,58.05L140.25,56.64L140.99,55.50L141.69,54.63L142.32,54.01L142.88,53.60L143.41,53.34L143.91,53.19L144.40,53.16L144.89,53.23L145.39,53.40L145.92,53.70L146.51,54.17L147.16,54.86L147.87,55.81L148.62,57.04L149.38,58.52L150.13,60.19L150.85,62.00L151.55,63.92L152.22,65.92L152.86,67.97L153.48,70.07L154.08,72.20L154.66,74.35L155.22,76.53L155.77,78.72L156.31,80.93L156.83,83.15L157.35,85.38L157.85,87.62L158.35,89.87L158.85,92.12L159.34,94.38L159.82,96.65L160.30,98.92L160.78,101.19L161.25,103.47L161.72,105.74L162.19,108.03L162.66,110.31L163.13,112.60L163.60,114.89L164.06,117.17L164.53,119.46L165.00,121.75L165.47,124.03L165.94,126.31L166.41,128.59L166.89,130.87L167.37,133.15L167.85,135.42L168.33,137.69L168.82,139.96L169.31,142.23L169.80,144.49L170.30,146.75L170.81,149.01L171.32,151.26L171.83,153.51L172.35,155.76L172.88,158.00L173.42,160.24L173.96,162.48L174.51,164.71L175.07,166.94L175.64,169.16L176.22,171.38L176.81,173.59L177.41,175.79L178.02,177.99L178.64,180.18L179.27,182.37L179.92,184.55L180.58,186.72L181.25,188.88L181.94,191.03L182.65,193.17L183.37,195.30L184.11,197.42L184.87,199.53L185.65,201.62L186.45,203.70L187.26,205.77L188.11,207.82L188.97,209.85L189.86,211.86L190.77,213.85L191.71,215.82L192.68,217.77L193.67,219.70L194.70,221.59L195.75,223.46L196.84,225.31L197.96,227.12L199.11,228.89L200.30,230.64L201.52,232.34L202.78,234.01L204.07,235.64L205.40,237.23L206.77,238.78L208.18,240.29L209.62,241.75L211.10,243.17L212.62,244.54L214.18,245.87L215.78,247.15L217.41,248.38L219.08,249.57L220.79,250.71L222.54,251.81L224.31,252.86L226.13,253.87L227.97,254.83L229.85,255.75L231.76,256.63L233.70,257.47L235.66,258.27L237.65,259.03L239.67,259.76L241.71,260.45L243.77,261.11L245.85,261.73L247.94,262.32L250.06,262.88L252.19,263.42L254.34,263.92L256.50,264.40L258.68,264.86L260.86,265.29L263.06,265.70L265.27,266.09L267.48,266.46L269.71,266.82L271.94,267.15L274.18,267.47L276.43,267.77L278.68,268.06L280.94,268.33L283.20,268.59L285.47,268.83L287.75,269.07L290.02,269.29L292.31,269.51L294.59,269.71L296.88,269.90L299.17,270.09L301.47,270.26L303.76,270.43L306.06,270.59L308.36,270.74L310.67,270.89L312.97,271.03L315.28,271.16L317.59,271.29L319.90,271.41L322.22,271.53L324.53,271.64L326.85,271.75L329.16,271.85L331.48,271.95L333.80,272.05L336.12,272.14L338.44,272.22L340.76,272.31L343.09,272.39L345.41,272.47L347.73,272.54L350.06,272.61L352.39,272.68L354.71,272.75L357.04,272.82L359.37,272.88L361.69,272.94L364.02,272.99L366.35,273.05L368.68,273.10L371.01,273.16L373.34,273.21L375.67,273.26L378.00,273.30L380.33,273.35L382.67,273.39L385.00,273.44L387.33,273.48L389.66,273.52L391.99,273.56L394.33,273.59L396.66,273.63L398.99,273.67L401.33,273.70L403.66,273.74L405.99,273.77L408.33,273.80L410.66,273.83L413.00,273.86L415.33,273.89L417.66,273.92L420.00,273.95" fill="none" stroke="#0000cd" stroke-width="1.35" stroke-linejoin="round"/>
<path d="M76.50,275.50L77.74,273.52L78.97,271.55L80.19,269.59L81.41,267.64L82.62,265.70L83.83,263.77L85.02,261.85L86.20,259.94L87.38,258.04L88.54,256.16L89.69,254.28L90.83,252.40L91.95,250.52L93.06,248.64L94.16,246.75L95.24,244.86L96.31,242.96L97.36,241.05L98.40,239.13L99.42,237.21L100.43,235.27L101.42,233.32L102.39,231.36L103.35,229.39L104.29,227.41L105.22,225.43L106.12,223.43L107.01,221.42L107.89,219.41L108.74,217.38L109.58,215.34L110.40,213.29L111.21,211.22L112.00,209.15L112.77,207.06L113.53,204.97L114.27,202.86L115.00,200.74L115.72,198.61L116.42,196.47L117.11,194.33L117.79,192.17L118.45,190.00L119.11,187.83L119.75,185.65L120.39,183.46L121.01,181.27L121.63,179.07L122.24,176.87L122.84,174.66L123.44,172.44L124.02,170.22L124.61,168.00L125.18,165.78L125.75,163.55L126.32,161.32L126.88,159.09L127.44,156.85L128.00,154.62L128.55,152.38L129.10,150.14L129.65,147.90L130.20,145.66L130.75,143.42L131.29,141.18L131.84,138.94L132.38,136.70L132.93,134.45L133.47,132.19L134.02,129.92L134.56,127.65L135.11,125.37L135.66,123.10L136.21,120.83L136.76,118.57L137.32,116.31L137.88,114.06L138.44,111.83L139.01,109.61L139.58,107.40L140.16,105.22L140.74,103.06L141.33,100.92L141.92,98.81L142.52,96.72L143.13,94.67L143.75,92.66L144.37,90.68L145.01,88.75L145.65,86.84L146.31,84.95L146.97,83.08L147.65,81.23L148.35,79.39L149.05,77.58L149.78,75.80L150.52,74.05L151.28,72.33L152.05,70.66L152.85,69.03L153.68,67.47L154.52,65.97L155.39,64.56L156.28,63.25L157.19,62.06L158.12,61.03L159.04,59.97L159.94,59.12L160.81,58.56L161.62,58.31L162.38,58.25L163.08,58.28L163.75,58.39L164.40,58.61L165.05,58.92L165.70,59.26L166.37,59.45L167.07,59.72L167.82,60.09L168.61,60.60L169.42,61.25L170.26,62.06L171.09,63.05L171.90,64.20L172.69,65.51L173.46,66.92L174.20,68.43L174.91,70.00L175.60,71.64L176.27,73.34L176.93,75.08L177.56,76.86L178.19,78.68L178.79,80.54L179.39,82.42L179.98,84.33L180.56,86.26L181.13,88.22L181.69,90.20L182.25,92.20L182.80,94.22L183.35,96.26L183.90,98.31L184.44,100.38L184.99,102.46L185.53,104.56L186.07,106.67L186.61,108.79L187.15,110.92L187.69,113.06L188.23,115.21L188.77,117.36L189.31,119.52L189.85,121.69L190.40,123.86L190.95,126.03L191.50,128.22L192.06,130.40L192.62,132.59L193.18,134.79L193.75,136.99L194.32,139.19L194.90,141.39L195.49,143.60L196.08,145.81L196.68,148.02L197.29,150.22L197.90,152.43L198.52,154.64L199.15,156.84L199.79,159.04L200.44,161.24L201.10,163.43L201.77,165.62L202.45,167.80L203.15,169.97L203.85,172.14L204.57,174.30L205.30,176.45L206.05,178.59L206.81,180.72L207.58,182.83L208.37,184.94L209.18,187.03L210.00,189.10L210.84,191.16L211.70,193.21L212.58,195.25L213.47,197.27L214.39,199.27L215.33,201.26L216.28,203.23L217.26,205.18L218.27,207.10L219.29,209.01L220.34,210.89L221.42,212.74L222.52,214.57L223.64,216.36L224.80,218.13L225.97,219.86L227.18,221.56L228.41,223.23L229.67,224.85L230.96,226.44L232.28,227.97L233.62,229.45L234.99,230.89L236.40,232.28L237.83,233.63L239.29,234.89L240.78,236.03L242.29,237.13L243.84,238.24L245.41,239.46L247.01,240.79L248.64,242.17L250.29,243.53L251.97,244.79L253.68,245.96L255.41,247.08L257.17,248.15L258.95,249.17L260.75,250.13L262.57,251.04L264.42,251.90L266.29,252.72L268.17,253.52L270.08,254.28L272.00,255.00L273.94,255.70L275.89,256.37L277.86,257.01L279.85,257.62L281.85,258.21L283.86,258.77L285.89,259.31L287.92,259.82L289.97,260.31L292.03,260.79L294.09,261.24L296.17,261.67L298.25,262.09L300.35,262.49L302.44,262.87L304.55,263.24L306.66,263.60L308.78,263.94L310.91,264.26L313.04,264.58L315.17,264.88L317.31,265.17L319.45,265.45L321.60,265.72L323.75,265.98L325.90,266.23L328.06,266.47L330.22,266.70L332.39,266.93L334.55,267.15L336.72,267.36L338.89,267.56L341.06,267.76L343.24,267.95L345.42,268.13L347.59,268.31L349.77,268.49L351.96,268.66L354.14,268.82L356.32,268.98L358.51,269.13L360.70,269.28L362.88,269.43L365.07,269.57L367.26,269.71L369.45,269.84L371.64,269.98L373.84,270.10L376.03,270.23L378.22,270.35L380.42,270.47L382.61,270.58L384.81,270.69L387.01,270.80L389.20,270.91L391.40,271.01L393.60,271.11L395.80,271.21L397.99,271.31L400.19,271.40L402.39,271.49L404.59,271.58L406.79,271.67L408.99,271.75L411.19,271.84L413.39,271.92L415.60,272.00L417.80,272.07L420.00,272.15L420.00,273.35L417.80,273.28L415.60,273.20L413.39,273.13L411.19,273.05L408.99,272.97L406.79,272.89L404.59,272.81L402.39,272.72L400.19,272.64L397.99,272.55L395.80,272.46L393.60,272.37L391.40,272.27L389.20,272.18L387.01,272.08L384.81,271.98L382.61,271.88L380.42,271.77L378.22,271.66L376.03,271.55L373.84,271.44L371.64,271.32L369.45,271.20L367.26,271.08L365.07,270.95L362.88,270.82L360.70,270.69L358.51,270.55L356.32,270.41L354.14,270.26L351.96,270.11L349.77,269.95L347.59,269.79L345.42,269.63L343.24,269.46L341.06,269.28L338.89,269.10L336.72,268.91L334.55,268.71L332.39,268.51L330.22,268.30L328.06,268.08L325.90,267.85L323.75,267.62L321.60,267.38L319.45,267.12L317.31,266.86L315.17,266.58L313.04,266.30L310.91,266.00L308.78,265.69L306.66,265.37L304.55,265.03L302.44,264.68L300.35,264.32L298.25,263.93L296.17,263.54L294.09,263.12L292.03,262.68L289.97,262.23L287.92,261.75L285.89,261.26L283.86,260.74L281.85,260.21L279.85,259.64L277.86,259.06L275.89,258.45L273.94,257.82L272.00,257.16L270.08,256.47L268.17,255.76L266.29,255.02L264.42,254.24L262.57,253.45L260.75,252.62L258.95,251.80L257.17,250.96L255.41,250.10L253.68,249.23L251.97,248.33L250.29,247.46L248.64,246.61L247.01,245.72L245.41,244.70L243.84,243.49L242.29,242.12L240.78,240.65L239.29,239.17L237.83,237.74L236.40,236.32L234.99,234.88L233.62,233.42L232.28,231.94L230.96,230.46L229.67,228.96L228.41,227.45L227.18,225.91L225.97,224.36L224.80,222.79L223.64,221.20L222.52,219.59L221.42,217.97L220.34,216.33L219.29,214.67L218.27,212.99L217.26,211.30L216.28,209.59L215.33,207.87L214.39,206.13L213.47,204.38L212.58,202.61L211.70,200.83L210.84,199.04L210.00,197.23L209.18,195.41L208.37,193.58L207.58,191.75L206.81,189.90L206.05,188.05L205.30,186.19L204.57,184.32L203.85,182.45L203.15,180.57L202.45,178.68L201.77,176.78L201.10,174.87L200.44,172.96L199.79,171.04L199.15,169.11L198.52,167.17L197.90,165.23L197.29,163.28L196.68,161.31L196.08,159.34L195.49,157.36L194.90,155.37L194.32,153.37L193.75,151.36L193.18,149.35L192.62,147.32L192.06,145.28L191.50,143.23L190.95,141.16L190.40,139.09L189.85,137.00L189.31,134.91L188.77,132.80L188.23,130.68L187.69,128.55L187.15,126.41L186.61,124.26L186.07,122.11L185.53,119.94L184.99,117.77L184.44,115.59L183.90,113.40L183.35,111.20L182.80,109.00L182.25,106.80L181.69,104.58L181.13,102.36L180.56,100.14L179.98,97.91L179.39,95.67L178.79,93.44L178.19,91.20L177.56,88.96L176.93,86.73L176.27,84.51L175.60,82.29L174.91,80.10L174.20,77.93L173.46,75.80L172.69,73.73L171.90,71.74L171.09,69.84L170.26,68.06L169.42,66.47L168.61,65.11L167.82,64.02L167.07,63.20L166.37,62.61L165.70,62.22L165.05,62.01L164.40,61.94L163.75,62.03L163.08,62.27L162.38,62.68L161.62,63.28L160.81,64.11L159.94,65.17L159.04,66.45L158.12,67.94L157.19,69.59L156.28,71.37L155.39,73.25L154.52,75.20L153.68,77.22L152.85,79.27L152.05,81.36L151.28,83.47L150.52,85.60L149.78,87.75L149.05,89.90L148.35,92.06L147.65,94.23L146.97,96.40L146.31,98.56L145.65,100.73L145.01,102.90L144.37,105.06L143.75,107.22L143.13,109.37L142.52,111.51L141.92,113.65L141.33,115.78L140.74,117.91L140.16,120.03L139.58,122.15L139.01,124.26L138.44,126.37L137.88,128.47L137.32,130.57L136.76,132.67L136.21,134.76L135.66,136.85L135.11,138.94L134.56,141.03L134.02,143.11L133.47,145.20L132.93,147.29L132.38,149.37L131.84,151.46L131.29,153.54L130.75,155.61L130.20,157.67L129.65,159.73L129.10,161.78L128.55,163.83L128.00,165.86L127.44,167.89L126.88,169.92L126.32,171.93L125.75,173.94L125.18,175.95L124.61,177.95L124.02,179.94L123.44,181.92L122.84,183.90L122.24,185.87L121.63,187.84L121.01,189.80L120.39,191.76L119.75,193.71L119.11,195.65L118.45,197.59L117.79,199.52L117.11,201.44L116.42,203.36L115.72,205.27L115.00,207.17L114.27,209.07L113.53,210.96L112.77,212.85L112.00,214.73L111.21,216.60L110.40,218.47L109.58,220.34L108.74,222.19L107.89,224.05L107.01,225.90L106.12,227.74L105.22,229.58L104.29,231.41L103.35,233.25L102.39,235.07L101.42,236.89L100.43,238.71L99.42,240.52L98.40,242.34L97.36,244.14L96.31,245.95L95.24,247.75L94.16,249.55L93.06,251.34L91.95,253.13L90.83,254.91L89.69,256.68L88.54,258.45L87.38,260.20L86.20,261.94L85.02,263.67L83.83,265.38L82.62,267.08L81.41,268.78L80.19,270.46L78.97,272.14L77.74,273.82L76.50,275.50Z" fill="#9400d3" fill-opacity="0.33"/>
<path d="M76.50,275.50L77.74,273.67L78.97,271.85L80.19,270.02L81.41,268.21L82.62,266.39L83.83,264.57L85.02,262.76L86.20,260.94L87.38,259.12L88.54,257.30L89.69,255.48L90.83,253.65L91.95,251.82L93.06,249.99L94.16,248.15L95.24,246.31L96.31,244.45L97.36,242.60L98.40,240.73L99.42,238.86L100.43,236.99L101.42,235.10L102.39,233.21L103.35,231.32L104.29,229.41L105.22,227.50L106.12,225.58L107.01,223.65L107.89,221.72L108.74,219.78L109.58,217.83L110.40,215.87L111.21,213.90L112.00,211.93L112.77,209.94L113.53,207.95L114.27,205.95L115.00,203.94L115.72,201.93L116.42,199.90L117.11,197.87L117.79,195.84L118.45,193.79L119.11,191.74L119.75,189.68L120.39,187.61L121.01,185.54L121.63,183.47L122.24,181.38L122.84,179.30L123.44,177.20L124.02,175.11L124.61,173.01L125.18,170.90L125.75,168.79L126.32,166.68L126.88,164.57L127.44,162.45L128.00,160.32L128.55,158.20L129.10,156.07L129.65,153.94L130.20,151.81L130.75,149.67L131.29,147.53L131.84,145.40L132.38,143.26L132.93,141.12L133.47,138.98L134.02,136.84L134.56,134.70L135.11,132.57L135.66,130.44L136.21,128.31L136.76,126.19L137.32,124.06L137.88,121.95L138.44,119.83L139.01,117.72L139.58,115.61L140.16,113.50L140.74,111.40L141.33,109.30L141.92,107.21L142.52,105.12L143.13,103.04L143.75,100.97L144.37,98.90L145.01,96.84L145.65,94.78L146.31,92.74L146.97,90.70L147.65,88.68L148.35,86.67L149.05,84.67L149.78,82.69L150.52,80.73L151.28,78.80L152.05,76.89L152.85,75.02L153.68,73.19L154.52,71.41L155.39,69.70L156.28,68.08L157.19,66.56L158.12,65.18L159.04,63.96L159.94,62.93L160.81,62.11L161.62,61.48L162.38,61.04L163.08,60.75L163.75,60.58L164.40,60.53L165.05,60.58L165.70,60.75L166.37,61.03L167.07,61.46L167.82,62.06L168.61,62.85L169.42,63.86L170.26,65.06L171.09,66.44L171.90,67.97L172.69,69.62L173.46,71.36L174.20,73.18L174.91,75.05L175.60,76.97L176.27,78.92L176.93,80.90L177.56,82.91L178.19,84.94L178.79,86.99L179.39,89.05L179.98,91.12L180.56,93.20L181.13,95.29L181.69,97.39L182.25,99.50L182.80,101.61L183.35,103.73L183.90,105.85L184.44,107.98L184.99,110.11L185.53,112.25L186.07,114.39L186.61,116.53L187.15,118.67L187.69,120.81L188.23,122.95L188.77,125.08L189.31,127.21L189.85,129.35L190.40,131.47L190.95,133.60L191.50,135.72L192.06,137.84L192.62,139.95L193.18,142.07L193.75,144.18L194.32,146.28L194.90,148.38L195.49,150.48L196.08,152.58L196.68,154.66L197.29,156.75L197.90,158.83L198.52,160.91L199.15,162.98L199.79,165.04L200.44,167.10L201.10,169.15L201.77,171.20L202.45,173.24L203.15,175.27L203.85,177.29L204.57,179.31L205.30,181.32L206.05,183.32L206.81,185.31L207.58,187.29L208.37,189.26L209.18,191.22L210.00,193.17L210.84,195.10L211.70,197.02L212.58,198.93L213.47,200.82L214.39,202.70L215.33,204.57L216.28,206.41L217.26,208.24L218.27,210.05L219.29,211.84L220.34,213.61L221.42,215.36L222.52,217.08L223.64,218.78L224.80,220.46L225.97,222.11L227.18,223.74L228.41,225.34L229.67,226.91L230.96,228.45L232.28,229.96L233.62,231.44L234.99,232.88L236.40,234.30L237.83,235.68L239.29,237.03L240.78,238.34L242.29,239.62L243.84,240.87L245.41,242.08L247.01,243.25L248.64,244.39L250.29,245.49L251.97,246.56L253.68,247.59L255.41,248.59L257.17,249.55L258.95,250.48L260.75,251.38L262.57,252.24L264.42,253.07L266.29,253.87L268.17,254.64L270.08,255.37L272.00,256.08L273.94,256.76L275.89,257.41L277.86,258.03L279.85,258.63L281.85,259.21L283.86,259.76L285.89,260.28L287.92,260.79L289.97,261.27L292.03,261.73L294.09,262.18L296.17,262.60L298.25,263.01L300.35,263.40L302.44,263.78L304.55,264.14L306.66,264.48L308.78,264.81L310.91,265.13L313.04,265.44L315.17,265.73L317.31,266.01L319.45,266.29L321.60,266.55L323.75,266.80L325.90,267.04L328.06,267.28L330.22,267.50L332.39,267.72L334.55,267.93L336.72,268.13L338.89,268.33L341.06,268.52L343.24,268.70L345.42,268.88L347.59,269.05L349.77,269.22L351.96,269.38L354.14,269.54L356.32,269.69L358.51,269.84L360.70,269.99L362.88,270.13L365.07,270.26L367.26,270.39L369.45,270.52L371.64,270.65L373.84,270.77L376.03,270.89L378.22,271.01L380.42,271.12L382.61,271.23L384.81,271.34L387.01,271.44L389.20,271.54L391.40,271.64L393.60,271.74L395.80,271.84L397.99,271.93L400.19,272.02L402.39,272.11L404.59,272.19L406.79,272.28L408.99,272.36L411.19,272.44L413.39,272.52L415.60,272.60L417.80,272.67L420.00,272.75" fill="none" stroke="#9400d3" stroke-width="1.35" stroke-linejoin="round"/>
<path d="M76.50,275.50L77.90,273.80L79.29,272.11L80.68,270.43L82.07,268.76L83.45,267.10L84.83,265.45L86.21,263.82L87.57,262.20L88.93,260.59L90.29,258.99L91.64,257.39L92.98,255.79L94.31,254.19L95.64,252.59L96.95,250.99L98.26,249.38L99.56,247.77L100.85,246.15L102.13,244.54L103.40,242.91L104.66,241.28L105.91,239.65L107.15,238.01L108.38,236.36L109.60,234.71L110.80,233.05L111.99,231.39L113.16,229.71L114.32,228.03L115.47,226.34L116.60,224.64L117.71,222.93L118.80,221.21L119.88,219.48L120.94,217.74L121.98,215.98L123.00,214.21L124.01,212.43L125.00,210.64L125.97,208.83L126.92,207.01L127.86,205.17L128.78,203.32L129.68,201.46L130.57,199.59L131.44,197.71L132.30,195.81L133.14,193.90L133.97,191.99L134.79,190.06L135.59,188.13L136.39,186.18L137.17,184.23L137.94,182.27L138.70,180.31L139.45,178.34L140.19,176.36L140.92,174.39L141.64,172.40L142.36,170.42L143.07,168.43L143.77,166.44L144.47,164.45L145.16,162.46L145.85,160.46L146.53,158.46L147.20,156.46L147.87,154.46L148.54,152.46L149.21,150.45L149.87,148.44L150.53,146.44L151.19,144.43L151.84,142.42L152.50,140.40L153.15,138.39L153.81,136.37L154.46,134.36L155.11,132.34L155.77,130.33L156.42,128.31L157.07,126.30L157.73,124.29L158.38,122.28L159.04,120.24L159.70,118.16L160.36,116.06L161.02,113.95L161.69,111.83L162.36,109.71L163.04,107.59L163.71,105.49L164.40,103.40L165.09,101.35L165.78,99.33L166.49,97.36L167.19,95.44L167.91,93.58L168.64,91.76L169.37,89.96L170.11,87.81L170.87,85.66L171.63,83.52L172.41,81.37L173.20,79.20L174.01,77.03L174.83,74.90L175.67,72.88L176.52,70.98L177.40,69.14L178.29,67.35L179.20,65.63L180.14,64.02L181.09,63.00L182.07,62.50L183.07,62.03L184.09,61.66L185.12,61.32L186.16,60.53L187.20,59.13L188.23,57.55L189.24,56.18L190.23,55.01L191.20,53.99L192.14,53.17L193.06,52.45L193.97,51.85L194.88,51.46L195.79,51.40L196.72,51.66L197.66,52.05L198.62,52.57L199.60,53.23L200.60,54.03L201.61,54.97L202.61,56.07L203.61,57.36L204.59,58.83L205.55,60.44L206.49,62.17L207.41,63.99L208.30,65.88L209.17,67.97L210.02,70.22L210.85,72.53L211.66,74.82L212.45,77.05L213.22,79.26L213.98,81.47L214.72,83.68L215.45,85.90L216.17,87.82L216.88,89.64L217.58,91.48L218.27,93.33L218.95,95.20L219.63,97.08L220.30,98.98L220.97,100.90L221.63,102.82L222.29,104.76L222.95,106.70L223.61,108.66L224.26,110.63L224.92,112.61L225.58,114.60L226.23,116.59L226.89,118.58L227.55,120.57L228.21,122.56L228.87,124.55L229.54,126.55L230.21,128.54L230.89,130.53L231.57,132.51L232.26,134.49L232.95,136.41L233.66,138.26L234.37,140.06L235.10,141.83L235.83,143.58L236.58,145.32L237.34,147.07L238.11,148.85L238.90,150.66L239.70,152.53L240.52,154.45L241.36,156.37L242.22,158.28L243.09,160.18L243.98,162.06L244.90,163.94L245.83,165.79L246.79,167.64L247.76,169.47L248.76,171.30L249.78,173.11L250.82,174.92L251.88,176.76L252.96,178.63L254.05,180.51L255.16,182.39L256.29,184.27L257.42,186.13L258.56,187.97L259.70,189.77L260.85,191.54L262.00,193.30L263.15,195.06L264.30,196.82L265.45,198.57L266.60,200.31L267.75,202.05L268.90,203.77L270.05,205.48L271.20,207.18L272.37,208.85L273.53,210.51L274.71,212.15L275.89,213.76L277.09,215.34L278.29,216.89L279.52,218.36L280.75,219.74L282.01,221.04L283.28,222.29L284.58,223.52L285.90,224.73L287.24,225.94L288.60,227.19L290.00,228.47L291.42,229.76L292.87,231.04L294.36,232.27L295.88,233.43L297.44,234.49L299.04,235.44L300.69,236.36L302.37,237.24L304.10,238.10L305.87,238.95L307.67,239.78L309.52,240.60L311.39,241.42L313.30,242.23L315.22,243.05L317.14,243.87L319.07,244.69L320.99,245.50L322.92,246.32L324.84,247.14L326.75,247.94L328.65,248.74L330.53,249.52L332.41,250.28L334.28,251.03L336.14,251.75L338.00,252.45L339.85,253.12L341.71,253.76L343.56,254.38L345.42,254.97L347.28,255.53L349.15,256.07L351.03,256.57L352.92,257.05L354.81,257.50L356.72,257.92L358.65,258.32L360.58,258.70L362.53,259.05L364.49,259.38L366.47,259.70L368.46,260.00L370.47,260.29L372.48,260.56L374.51,260.83L376.55,261.09L378.61,261.34L380.67,261.59L382.73,261.84L384.81,262.09L386.89,262.33L388.96,262.58L391.03,262.83L393.09,263.08L395.16,263.33L397.23,263.59L399.29,263.85L401.36,264.10L403.43,264.37L405.50,264.63L407.57,264.89L409.65,265.16L411.72,265.42L413.80,265.69L415.86,265.95L417.93,266.21L420.00,266.46L420.00,267.88L417.93,267.63L415.86,267.39L413.80,267.14L411.72,266.89L409.65,266.64L407.57,266.39L405.50,266.15L403.43,265.90L401.36,265.65L399.29,265.41L397.23,265.17L395.16,264.93L393.09,264.70L391.03,264.46L388.96,264.23L386.89,264.00L384.81,263.77L382.73,263.54L380.67,263.32L378.61,263.08L376.55,262.85L374.51,262.61L372.48,262.36L370.47,262.11L368.46,261.84L366.47,261.56L364.49,261.27L362.53,260.95L360.58,260.62L358.65,260.27L356.72,259.90L354.81,259.50L352.92,259.07L351.03,258.62L349.15,258.15L347.28,257.64L345.42,257.10L343.56,256.54L341.71,255.95L339.85,255.32L338.00,254.67L336.14,254.00L334.28,253.30L332.41,252.58L330.53,251.83L328.65,251.07L326.75,250.29L324.84,249.50L322.92,248.71L320.99,247.91L319.07,247.11L317.14,246.32L315.22,245.52L313.30,244.73L311.39,243.95L309.52,243.17L307.67,242.39L305.87,241.61L304.10,240.82L302.37,240.02L300.69,239.21L299.04,238.38L297.44,237.53L295.88,236.74L294.36,236.01L292.87,235.27L291.42,234.49L290.00,233.64L288.60,232.67L287.24,231.55L285.90,230.28L284.58,228.90L283.28,227.44L282.01,225.92L280.75,224.37L279.52,222.83L278.29,221.33L277.09,219.87L275.89,218.37L274.71,216.84L273.53,215.29L272.37,213.71L271.20,212.10L270.05,210.48L268.90,208.83L267.75,207.16L266.60,205.48L265.45,203.79L264.30,202.09L263.15,200.38L262.00,198.67L260.85,196.95L259.70,195.24L258.56,193.57L257.42,191.93L256.29,190.34L255.16,188.76L254.05,187.20L252.96,185.65L251.88,184.08L250.82,182.50L249.78,180.89L248.76,179.27L247.76,177.66L246.79,176.04L245.83,174.42L244.90,172.80L243.98,171.17L243.09,169.53L242.22,167.88L241.36,166.21L240.52,164.53L239.70,162.83L238.90,161.05L238.11,159.19L237.34,157.26L236.58,155.29L235.83,153.28L235.10,151.27L234.37,149.25L233.66,147.25L232.95,145.28L232.26,143.36L231.57,141.48L230.89,139.60L230.21,137.70L229.54,135.80L228.87,133.88L228.21,131.95L227.55,130.01L226.89,128.06L226.23,126.10L225.58,124.13L224.92,122.15L224.26,120.17L223.61,118.18L222.95,116.19L222.29,114.20L221.63,112.20L220.97,110.38L220.30,108.93L219.63,107.58L218.95,106.26L218.27,105.00L217.58,103.78L216.88,102.59L216.17,101.43L215.45,100.28L214.72,99.04L213.98,97.81L213.22,96.54L212.45,95.16L211.66,93.59L210.85,91.98L210.02,90.38L209.17,88.77L208.30,87.17L207.41,85.55L206.49,83.93L205.55,82.31L204.59,80.73L203.61,79.21L202.61,77.79L201.61,76.49L200.60,75.30L199.60,74.22L198.62,73.24L197.66,72.37L196.72,71.59L195.79,70.88L194.88,70.04L193.97,69.14L193.06,68.34L192.14,67.82L191.20,67.66L190.23,67.72L189.24,67.92L188.23,68.17L187.20,68.53L186.16,69.09L185.12,69.90L184.09,70.88L183.07,71.99L182.07,73.26L181.09,74.94L180.14,76.69L179.20,78.48L178.29,80.31L177.40,82.16L176.52,84.04L175.67,85.93L174.83,87.84L174.01,89.76L173.20,91.69L172.41,93.63L171.63,95.59L170.87,97.55L170.11,99.52L169.37,101.50L168.64,103.48L167.91,105.46L167.19,107.43L166.49,109.36L165.78,111.27L165.09,113.16L164.40,115.03L163.71,116.89L163.04,118.74L162.36,120.59L161.69,122.44L161.02,124.30L160.36,126.16L159.70,128.04L159.04,129.94L158.38,131.86L157.73,133.80L157.07,135.76L156.42,137.71L155.77,139.67L155.11,141.62L154.46,143.58L153.81,145.53L153.15,147.48L152.50,149.43L151.84,151.38L151.19,153.32L150.53,155.25L149.87,157.19L149.21,159.11L148.54,161.03L147.87,162.95L147.20,164.86L146.53,166.77L145.85,168.67L145.16,170.56L144.47,172.44L143.77,174.32L143.07,176.19L142.36,178.05L141.64,179.90L140.92,181.75L140.19,183.58L139.45,185.41L138.70,187.22L137.94,189.03L137.17,190.82L136.39,192.61L135.59,194.39L134.79,196.16L133.97,197.92L133.14,199.67L132.30,201.40L131.44,203.13L130.57,204.85L129.68,206.56L128.78,208.26L127.86,209.96L126.92,211.64L125.97,213.31L125.00,214.98L124.01,216.64L123.00,218.29L121.98,219.94L120.94,221.58L119.88,223.21L118.80,224.84L117.71,226.46L116.60,228.09L115.47,229.70L114.32,231.31L113.16,232.92L111.99,234.53L110.80,236.13L109.60,237.72L108.38,239.31L107.15,240.89L105.91,242.47L104.66,244.05L103.40,245.61L102.13,247.17L100.85,248.73L99.56,250.28L98.26,251.82L96.95,253.36L95.64,254.90L94.31,256.43L92.98,257.95L91.64,259.47L90.29,260.98L88.93,262.48L87.57,263.98L86.21,265.46L84.83,266.93L83.45,268.38L82.07,269.82L80.68,271.25L79.29,272.67L77.90,274.09L76.50,275.50Z" fill="#ff8c00" fill-opacity="0.33"/>
<path d="M76.50,275.50L77.90,273.95L79.29,272.39L80.68,270.84L82.07,269.29L83.45,267.74L84.83,266.19L86.21,264.64L87.57,263.09L88.93,261.54L90.29,259.98L91.64,258.43L92.98,256.87L94.31,255.31L95.64,253.74L96.95,252.17L98.26,250.60L99.56,249.02L100.85,247.44L102.13,245.85L103.40,244.26L104.66,242.66L105.91,241.06L107.15,239.45L108.38,237.84L109.60,236.22L110.80,234.59L111.99,232.96L113.16,231.32L114.32,229.67L115.47,228.02L116.60,226.36L117.71,224.70L118.80,223.03L119.88,221.35L120.94,219.66L121.98,217.96L123.00,216.25L124.01,214.53L125.00,212.81L125.97,211.07L126.92,209.32L127.86,207.56L128.78,205.79L129.68,204.01L130.57,202.22L131.44,200.42L132.30,198.61L133.14,196.78L133.97,194.95L134.79,193.11L135.59,191.26L136.39,189.40L137.17,187.53L137.94,185.65L138.70,183.77L139.45,181.87L140.19,179.97L140.92,178.07L141.64,176.15L142.36,174.23L143.07,172.31L143.77,170.38L144.47,168.44L145.16,166.50L145.85,164.56L146.53,162.61L147.20,160.66L147.87,158.70L148.54,156.74L149.21,154.78L149.87,152.81L150.53,150.84L151.19,148.87L151.84,146.89L152.50,144.91L153.15,142.93L153.81,140.95L154.46,138.96L155.11,136.98L155.77,134.99L156.42,133.01L157.07,131.03L157.73,129.05L158.38,127.07L159.04,125.10L159.70,123.13L160.36,121.16L161.02,119.19L161.69,117.23L162.36,115.28L163.04,113.32L163.71,111.37L164.40,109.43L165.09,107.49L165.78,105.56L166.49,103.63L167.19,101.71L167.91,99.80L168.64,97.90L169.37,96.00L170.11,94.12L170.87,92.24L171.63,90.38L172.41,88.53L173.20,86.70L174.01,84.88L174.83,83.09L175.67,81.31L176.52,79.56L177.40,77.84L178.29,76.16L179.20,74.51L180.14,72.91L181.09,71.37L182.07,69.88L183.07,68.48L184.09,67.16L185.12,65.94L186.16,64.84L187.20,63.86L188.23,63.02L189.24,62.32L190.23,61.76L191.20,61.34L192.14,61.04L193.06,60.86L193.97,60.79L194.88,60.84L195.79,60.99L196.72,61.26L197.66,61.65L198.62,62.17L199.60,62.83L200.60,63.63L201.61,64.57L202.61,65.65L203.61,66.84L204.59,68.15L205.55,69.54L206.49,71.02L207.41,72.57L208.30,74.17L209.17,75.82L210.02,77.52L210.85,79.25L211.66,81.02L212.45,82.81L213.22,84.62L213.98,86.46L214.72,88.31L215.45,90.18L216.17,92.07L216.88,93.96L217.58,95.87L218.27,97.79L218.95,99.72L219.63,101.66L220.30,103.60L220.97,105.55L221.63,107.51L222.29,109.48L222.95,111.45L223.61,113.42L224.26,115.40L224.92,117.38L225.58,119.37L226.23,121.35L226.89,123.32L227.55,125.29L228.21,127.26L228.87,129.22L229.54,131.17L230.21,133.12L230.89,135.06L231.57,137.00L232.26,138.92L232.95,140.84L233.66,142.75L234.37,144.66L235.10,146.55L235.83,148.43L236.58,150.30L237.34,152.17L238.11,154.02L238.90,155.85L239.70,157.68L240.52,159.49L241.36,161.29L242.22,163.08L243.09,164.85L243.98,166.62L244.90,168.37L245.83,170.11L246.79,171.84L247.76,173.56L248.76,175.28L249.78,177.00L250.82,178.71L251.88,180.42L252.96,182.14L254.05,183.85L255.16,185.58L256.29,187.30L257.42,189.03L258.56,190.77L259.70,192.51L260.85,194.25L262.00,195.99L263.15,197.72L264.30,199.46L265.45,201.18L266.60,202.90L267.75,204.61L268.90,206.30L270.05,207.98L271.20,209.64L272.37,211.28L273.53,212.90L274.71,214.50L275.89,216.06L277.09,217.60L278.29,219.11L279.52,220.59L280.75,222.03L282.01,223.43L283.28,224.79L284.58,226.11L285.90,227.38L287.24,228.61L288.60,229.80L290.00,230.94L291.42,232.04L292.87,233.09L294.36,234.10L295.88,235.07L297.44,236.01L299.04,236.91L300.69,237.78L302.37,238.63L304.10,239.46L305.87,240.28L307.67,241.08L309.52,241.88L311.39,242.68L313.30,243.48L315.22,244.29L317.14,245.09L319.07,245.90L320.99,246.71L322.92,247.52L324.84,248.32L326.75,249.12L328.65,249.91L330.53,250.68L332.41,251.43L334.28,252.16L336.14,252.87L338.00,253.56L339.85,254.22L341.71,254.86L343.56,255.46L345.42,256.04L347.28,256.59L349.15,257.11L351.03,257.60L352.92,258.06L354.81,258.50L356.72,258.91L358.65,259.30L360.58,259.66L362.53,260.00L364.49,260.32L366.47,260.63L368.46,260.92L370.47,261.20L372.48,261.46L374.51,261.72L376.55,261.97L378.61,262.21L380.67,262.45L382.73,262.69L384.81,262.93L386.89,263.17L388.96,263.41L391.03,263.65L393.09,263.89L395.16,264.13L397.23,264.38L399.29,264.63L401.36,264.88L403.43,265.13L405.50,265.39L407.57,265.64L409.65,265.90L411.72,266.16L413.80,266.41L415.86,266.67L417.93,266.92L420.00,267.17" fill="none" stroke="#ff8c00" stroke-width="1.35" stroke-linejoin="round"/>
</g>
<g clip-path="url(#c2)">
<path d="M491.50,275.50L493.57,273.06L495.64,270.61L497.68,268.16L499.70,265.71L501.70,263.25L503.67,260.80L505.61,258.35L507.52,255.90L509.39,253.45L511.22,251.01L513.02,248.56L514.78,246.12L516.50,243.69L518.18,241.26L519.82,238.84L521.42,236.43L522.98,234.03L524.50,231.64L525.98,229.24L527.42,226.84L528.82,224.42L530.18,222.00L531.51,219.57L532.79,217.13L534.04,214.69L535.25,212.23L536.43,209.77L537.58,207.31L538.69,204.83L539.77,202.35L540.83,199.87L541.86,197.38L542.86,194.89L543.84,192.39L544.80,189.89L545.74,187.39L546.66,184.88L547.55,182.38L548.44,179.87L549.30,177.37L550.15,174.86L550.99,172.36L551.81,169.85L552.63,167.34L553.43,164.84L554.22,162.34L555.00,159.83L555.77,157.33L556.53,154.83L557.29,152.33L558.04,149.84L558.78,147.34L559.52,144.85L560.25,142.36L560.98,139.87L561.71,137.39L562.43,134.91L563.15,132.43L563.87,129.95L564.58,127.47L565.29,125.00L566.01,122.53L566.72,120.07L567.43,117.61L568.15,115.15L568.86,112.70L569.58,110.26L570.30,107.82L571.02,105.38L571.75,102.96L572.48,100.54L573.22,98.12L573.96,95.72L574.71,93.32L575.47,90.93L576.23,88.55L577.01,86.17L577.80,83.81L578.60,81.47L579.42,79.13L580.26,76.81L581.11,74.50L581.99,72.22L582.89,69.95L583.83,67.71L584.80,65.50L585.80,63.33L586.86,61.20L587.97,59.13L589.14,57.14L590.38,54.52L591.69,51.26L593.05,47.93L594.39,45.20L595.59,44.04L596.57,43.29L597.40,42.80L598.16,42.47L598.90,42.24L599.68,42.11L600.48,42.08L601.26,42.15L602.01,42.32L602.76,42.58L603.59,42.99L604.57,43.62L605.78,44.61L607.14,46.02L608.54,47.89L609.90,51.34L611.19,55.28L612.42,58.75L613.58,61.13L614.70,63.28L615.76,65.47L616.79,67.71L617.79,69.97L618.76,72.26L619.71,74.57L620.63,76.90L621.54,79.24L622.43,81.60L623.31,83.98L624.18,86.36L625.05,88.76L625.90,91.17L626.75,93.59L627.59,96.01L628.43,98.44L629.27,100.88L630.10,103.33L630.93,105.78L631.77,108.24L632.60,110.70L633.43,113.17L634.27,115.63L635.11,118.10L635.95,120.58L636.79,123.05L637.64,125.53L638.50,128.00L639.35,130.48L640.22,132.96L641.09,135.44L641.97,137.92L642.86,140.41L643.76,142.89L644.67,145.37L645.59,147.85L646.52,150.34L647.46,152.82L648.41,155.30L649.38,157.78L650.36,160.26L651.36,162.74L652.37,165.22L653.41,167.70L654.45,170.17L655.52,172.64L656.61,175.11L657.72,177.58L658.85,180.04L660.01,182.50L661.19,184.95L662.40,187.40L663.64,189.85L664.91,192.29L666.21,194.72L667.55,197.15L668.92,199.57L670.33,201.98L671.78,204.38L673.27,206.77L674.81,209.15L676.40,211.51L678.04,213.86L679.74,216.19L681.49,218.51L683.31,220.81L685.19,223.08L687.15,225.33L689.18,227.55L691.29,229.74L693.49,231.90L695.77,234.02L698.15,236.10L700.62,238.14L703.20,240.12L705.88,242.05L708.68,243.92L711.59,245.73L714.62,247.48L717.77,249.15L721.05,250.75L724.45,252.28L727.98,253.73L731.64,255.10L735.44,256.40L739.38,257.62L743.45,258.76L747.66,259.83L752.01,260.82L756.49,261.75L761.11,262.61L765.85,263.41L770.72,264.14L775.70,264.82L780.78,265.44L785.97,266.01L791.24,266.53L796.59,267.01L802.01,267.46L807.49,267.86L813.03,268.23L818.62,268.57L824.26,268.89L829.93,269.18L835.63,269.45L841.36,269.69L847.12,269.92L852.89,270.14L858.69,270.33L864.51,270.52L870.34,270.69L876.18,270.85L882.03,271.00L887.90,271.15L893.77,271.28L899.65,271.40L905.54,271.52L911.43,271.63L917.33,271.74L923.24,271.84L929.15,271.94L935.06,272.03L940.98,272.11L946.90,272.19L952.82,272.27L958.75,272.35L964.68,272.42L970.61,272.48L976.54,272.55L982.48,272.61L988.42,272.67L994.36,272.73L1000.30,272.79L1006.24,272.84L1012.18,272.89L1018.12,272.94L1024.07,272.99L1030.01,273.03L1035.96,273.08L1041.91,273.12L1047.86,273.16L1053.81,273.20L1059.76,273.24L1065.71,273.28L1071.66,273.32L1077.61,273.35L1083.56,273.39L1089.51,273.42L1095.47,273.45L1101.42,273.49L1107.37,273.52L1113.33,273.55L1119.28,273.57L1125.24,273.60L1131.19,273.63L1137.15,273.66L1143.10,273.68L1149.06,273.71L1155.02,273.73L1160.97,273.76L1166.93,273.78L1172.89,273.81L1178.84,273.83L1184.80,273.85L1190.76,273.87L1196.72,273.89L1202.67,273.91L1208.63,273.93L1214.59,273.95L1220.55,273.97L1226.51,273.99L1232.47,274.01L1238.43,274.03L1244.38,274.05L1250.34,274.06L1256.30,274.08L1262.26,274.10L1268.22,274.11L1274.18,274.13L1280.14,274.14L1286.10,274.16L1292.06,274.17L1298.02,274.19L1303.98,274.20L1309.94,274.22L1315.90,274.23L1315.90,275.23L1309.94,275.22L1303.98,275.21L1298.02,275.20L1292.06,275.19L1286.10,275.18L1280.14,275.17L1274.18,275.16L1268.22,275.15L1262.26,275.13L1256.30,275.12L1250.34,275.11L1244.38,275.09L1238.43,275.08L1232.47,275.07L1226.51,275.05L1220.55,275.04L1214.59,275.02L1208.63,275.00L1202.67,274.99L1196.72,274.97L1190.76,274.95L1184.80,274.93L1178.84,274.91L1172.89,274.90L1166.93,274.88L1160.97,274.85L1155.02,274.83L1149.06,274.81L1143.10,274.79L1137.15,274.76L1131.19,274.74L1125.24,274.72L1119.28,274.69L1113.33,274.66L1107.37,274.64L1101.42,274.61L1095.47,274.58L1089.51,274.55L1083.56,274.52L1077.61,274.48L1071.66,274.45L1065.71,274.42L1059.76,274.38L1053.81,274.34L1047.86,274.31L1041.91,274.27L1035.96,274.22L1030.01,274.18L1024.07,274.14L1018.12,274.09L1012.18,274.04L1006.24,273.99L1000.30,273.94L994.36,273.89L988.42,273.83L982.48,273.77L976.54,273.71L970.61,273.65L964.68,273.58L958.75,273.51L952.82,273.44L946.90,273.36L940.98,273.28L935.06,273.20L929.15,273.11L923.24,273.02L917.33,272.92L911.43,272.81L905.54,272.70L899.65,272.58L893.77,272.46L887.90,272.33L882.03,272.19L876.18,272.04L870.34,271.88L864.51,271.71L858.69,271.52L852.89,271.33L847.12,271.11L841.36,270.89L835.63,270.64L829.93,270.37L824.26,270.09L818.62,269.77L813.03,269.44L807.49,269.07L802.01,268.67L796.59,268.23L791.24,267.76L785.97,267.24L780.78,266.68L775.70,266.06L770.72,265.40L765.85,264.68L761.11,263.91L756.49,263.07L752.01,262.17L747.66,261.20L743.45,260.17L739.38,259.07L735.44,257.90L731.64,256.66L727.98,255.35L724.45,253.98L721.05,252.53L717.77,251.01L714.62,249.43L711.59,247.79L708.68,246.09L705.88,244.33L703.20,242.52L700.62,240.65L698.15,238.75L695.77,236.80L693.49,234.82L691.29,232.80L689.18,230.75L687.15,228.68L685.19,226.57L683.31,224.45L681.49,222.30L679.74,220.13L678.04,217.95L676.40,215.75L674.81,213.54L673.27,211.31L671.78,209.07L670.33,206.82L668.92,204.56L667.55,202.29L666.21,200.01L664.91,197.72L663.64,195.42L662.40,193.12L661.19,190.81L660.01,188.50L658.85,186.17L657.72,183.85L656.61,181.51L655.52,179.17L654.45,176.83L653.41,174.48L652.37,172.13L651.36,169.77L650.36,167.41L649.38,165.04L648.41,162.67L647.46,160.29L646.52,157.92L645.59,155.53L644.67,153.14L643.76,150.75L642.86,148.36L641.97,145.96L641.09,143.55L640.22,141.14L639.35,138.73L638.50,136.32L637.64,133.90L636.79,131.47L635.95,129.04L635.11,126.61L634.27,124.17L633.43,121.72L632.60,119.27L631.77,116.82L630.93,114.36L630.10,111.90L629.27,109.43L628.43,106.96L627.59,104.49L626.75,102.01L625.90,99.53L625.05,97.05L624.18,94.57L623.31,92.08L622.43,89.58L621.54,87.09L620.63,84.59L619.71,82.08L618.76,79.58L617.79,77.07L616.79,74.57L615.76,72.06L614.70,69.56L613.58,67.07L612.42,64.61L611.19,62.84L609.90,61.94L608.54,61.21L607.14,60.30L605.78,59.63L604.57,59.22L603.59,58.98L602.76,58.84L602.01,58.73L601.26,58.65L600.48,58.55L599.68,58.25L598.90,57.75L598.16,57.16L597.40,56.54L596.57,55.93L595.59,55.44L594.39,55.44L593.05,56.19L591.69,57.81L590.38,60.10L589.14,62.50L587.97,64.96L586.86,67.45L585.80,69.97L584.80,72.49L583.83,75.02L582.89,77.55L581.99,80.08L581.11,82.61L580.26,85.14L579.42,87.67L578.60,90.19L577.80,92.71L577.01,95.22L576.23,97.74L575.47,100.25L574.71,102.75L573.96,105.25L573.22,107.75L572.48,110.25L571.75,112.74L571.02,115.23L570.30,117.71L569.58,120.20L568.86,122.68L568.15,125.15L567.43,127.62L566.72,130.09L566.01,132.56L565.29,135.02L564.58,137.48L563.87,139.93L563.15,142.38L562.43,144.82L561.71,147.26L560.98,149.69L560.25,152.12L559.52,154.54L558.78,156.96L558.04,159.38L557.29,161.79L556.53,164.19L555.77,166.60L555.00,168.99L554.22,171.38L553.43,173.77L552.63,176.15L551.81,178.52L550.99,180.89L550.15,183.26L549.30,185.62L548.44,187.97L547.55,190.32L546.66,192.66L545.74,195.00L544.80,197.33L543.84,199.66L542.86,201.98L541.86,204.29L540.83,206.60L539.77,208.90L538.69,211.20L537.58,213.50L536.43,215.79L535.25,218.07L534.04,220.36L532.79,222.64L531.51,224.91L530.18,227.19L528.82,229.46L527.42,231.73L525.98,234.00L524.50,236.27L522.98,238.53L521.42,240.78L519.82,243.01L518.18,245.22L516.50,247.41L514.78,249.59L513.02,251.76L511.22,253.91L509.39,256.06L507.52,258.21L505.61,260.35L503.67,262.49L501.70,264.63L499.70,266.78L497.68,268.94L495.64,271.11L493.57,273.30L491.50,275.50Z" fill="#ff0000" fill-opacity="0.33"/>
<path d="M491.50,275.50L493.57,273.18L495.64,270.86L497.68,268.55L499.70,266.24L501.70,263.94L503.67,261.65L505.61,259.35L507.52,257.05L509.39,254.76L511.22,252.46L513.02,250.16L514.78,247.86L516.50,245.55L518.18,243.24L519.82,240.92L521.42,238.60L522.98,236.28L524.50,233.95L525.98,231.62L527.42,229.28L528.82,226.94L530.18,224.59L531.51,222.24L532.79,219.88L534.04,217.52L535.25,215.15L536.43,212.78L537.58,210.40L538.69,208.02L539.77,205.63L540.83,203.23L541.86,200.83L542.86,198.43L543.84,196.02L544.80,193.61L545.74,191.19L546.66,188.77L547.55,186.35L548.44,183.92L549.30,181.49L550.15,179.06L550.99,176.62L551.81,174.19L552.63,171.75L553.43,169.30L554.22,166.86L555.00,164.41L555.77,161.96L556.53,159.51L557.29,157.06L558.04,154.61L558.78,152.15L559.52,149.70L560.25,147.24L560.98,144.78L561.71,142.32L562.43,139.86L563.15,137.40L563.87,134.94L564.58,132.47L565.29,130.01L566.01,127.55L566.72,125.08L567.43,122.62L568.15,120.15L568.86,117.69L569.58,115.23L570.30,112.77L571.02,110.31L571.75,107.85L572.48,105.39L573.22,102.94L573.96,100.48L574.71,98.03L575.47,95.59L576.23,93.14L577.01,90.70L577.80,88.26L578.60,85.83L579.42,83.40L580.26,80.97L581.11,78.56L581.99,76.15L582.89,73.75L583.83,71.37L584.80,69.00L585.80,66.65L586.86,64.33L587.97,62.05L589.14,59.82L590.38,57.68L591.69,55.67L593.05,53.88L594.39,52.41L595.59,51.35L596.57,50.66L597.40,50.21L598.16,49.90L598.90,49.69L599.68,49.58L600.48,49.57L601.26,49.67L602.01,49.87L602.76,50.16L603.59,50.59L604.57,51.25L605.78,52.28L607.14,53.71L608.54,55.48L609.90,57.48L611.19,59.61L612.42,61.83L613.58,64.10L614.70,66.42L615.76,68.77L616.79,71.14L617.79,73.52L618.76,75.92L619.71,78.33L620.63,80.74L621.54,83.16L622.43,85.59L623.31,88.03L624.18,90.46L625.05,92.91L625.90,95.35L626.75,97.80L627.59,100.25L628.43,102.70L629.27,105.16L630.10,107.61L630.93,110.07L631.77,112.53L632.60,114.99L633.43,117.44L634.27,119.90L635.11,122.35L635.95,124.81L636.79,127.26L637.64,129.71L638.50,132.16L639.35,134.61L640.22,137.05L641.09,139.50L641.97,141.94L642.86,144.38L643.76,146.82L644.67,149.26L645.59,151.69L646.52,154.13L647.46,156.56L648.41,158.99L649.38,161.41L650.36,163.83L651.36,166.26L652.37,168.67L653.41,171.09L654.45,173.50L655.52,175.91L656.61,178.31L657.72,180.71L658.85,183.11L660.01,185.50L661.19,187.88L662.40,190.26L663.64,192.64L664.91,195.00L666.21,197.37L667.55,199.72L668.92,202.06L670.33,204.40L671.78,206.72L673.27,209.04L674.81,211.34L676.40,213.63L678.04,215.91L679.74,218.16L681.49,220.41L683.31,222.63L685.19,224.83L687.15,227.00L689.18,229.15L691.29,231.27L693.49,233.36L695.77,235.41L698.15,237.43L700.62,239.40L703.20,241.32L705.88,243.19L708.68,245.00L711.59,246.76L714.62,248.45L717.77,250.08L721.05,251.64L724.45,253.13L727.98,254.54L731.64,255.88L735.44,257.15L739.38,258.34L743.45,259.47L747.66,260.52L752.01,261.50L756.49,262.41L761.11,263.26L765.85,264.04L770.72,264.77L775.70,265.44L780.78,266.06L785.97,266.62L791.24,267.14L796.59,267.62L802.01,268.06L807.49,268.46L813.03,268.83L818.62,269.17L824.26,269.49L829.93,269.78L835.63,270.04L841.36,270.29L847.12,270.52L852.89,270.73L858.69,270.93L864.51,271.11L870.34,271.28L876.18,271.44L882.03,271.60L887.90,271.74L893.77,271.87L899.65,271.99L905.54,272.11L911.43,272.22L917.33,272.33L923.24,272.43L929.15,272.52L935.06,272.61L940.98,272.70L946.90,272.78L952.82,272.86L958.75,272.93L964.68,273.00L970.61,273.07L976.54,273.13L982.48,273.19L988.42,273.25L994.36,273.31L1000.30,273.36L1006.24,273.42L1012.18,273.47L1018.12,273.52L1024.07,273.56L1030.01,273.61L1035.96,273.65L1041.91,273.69L1047.86,273.73L1053.81,273.77L1059.76,273.81L1065.71,273.85L1071.66,273.88L1077.61,273.92L1083.56,273.95L1089.51,273.98L1095.47,274.02L1101.42,274.05L1107.37,274.08L1113.33,274.10L1119.28,274.13L1125.24,274.16L1131.19,274.19L1137.15,274.21L1143.10,274.24L1149.06,274.26L1155.02,274.28L1160.97,274.31L1166.93,274.33L1172.89,274.35L1178.84,274.37L1184.80,274.39L1190.76,274.41L1196.72,274.43L1202.67,274.45L1208.63,274.47L1214.59,274.49L1220.55,274.50L1226.51,274.52L1232.47,274.54L1238.43,274.55L1244.38,274.57L1250.34,274.59L1256.30,274.60L1262.26,274.62L1268.22,274.63L1274.18,274.64L1280.14,274.66L1286.10,274.67L1292.06,274.68L1298.02,274.70L1303.98,274.71L1309.94,274.72L1315.90,274.73" fill="none" stroke="#ff0000" stroke-width="1.35" stroke-linejoin="round"/>
<path d="M491.50,275.50L493.41,273.11L495.31,270.72L497.20,268.34L499.07,265.96L500.93,263.60L502.75,261.24L504.56,258.88L506.34,256.53L508.09,254.19L509.81,251.85L511.50,249.52L513.16,247.20L514.79,244.88L516.39,242.57L517.95,240.27L519.48,237.96L520.98,235.64L522.45,233.32L523.88,230.99L525.28,228.66L526.65,226.32L527.99,223.97L529.30,221.61L530.57,219.25L531.81,216.88L533.03,214.50L534.21,212.11L535.36,209.72L536.49,207.31L537.59,204.91L538.66,202.49L539.71,200.07L540.74,197.64L541.74,195.20L542.72,192.76L543.68,190.32L544.62,187.87L545.54,185.41L546.45,182.95L547.33,180.49L548.20,178.02L549.06,175.55L549.90,173.08L550.73,170.60L551.54,168.12L552.35,165.64L553.14,163.16L553.92,160.67L554.69,158.19L555.45,155.69L556.21,153.19L556.95,150.69L557.69,148.17L558.42,145.65L559.14,143.12L559.86,140.59L560.57,138.05L561.28,135.51L561.98,132.97L562.68,130.42L563.37,127.88L564.06,125.33L564.75,122.79L565.44,120.24L566.12,117.70L566.81,115.16L567.49,112.63L568.17,110.10L568.85,107.58L569.53,105.07L570.21,102.57L570.89,100.07L571.58,97.59L572.27,95.13L572.96,92.67L573.65,90.23L574.35,87.81L575.05,85.41L575.76,83.02L576.48,80.66L577.20,78.31L577.93,75.99L578.68,73.68L579.43,71.39L580.20,69.12L580.98,66.87L581.79,64.64L582.61,62.43L583.45,60.25L584.32,58.10L585.23,55.99L586.16,53.93L587.14,51.93L588.16,49.99L589.24,48.15L590.38,46.17L591.57,43.20L592.80,40.88L594.02,39.51L595.14,38.56L596.11,37.95L596.95,37.58L597.70,37.34L598.42,37.19L599.13,37.12L599.85,37.14L600.57,37.27L601.30,37.50L602.08,37.87L602.97,38.44L604.02,39.31L605.21,40.54L606.45,42.72L607.69,45.57L608.87,47.22L610.00,49.02L611.07,50.92L612.10,52.90L613.08,54.95L614.02,57.05L614.93,59.19L615.82,61.37L616.68,63.58L617.52,65.82L618.34,68.08L619.15,70.36L619.94,72.66L620.73,74.98L621.50,77.31L622.27,79.67L623.03,82.04L623.78,84.44L624.53,86.85L625.27,89.28L626.02,91.72L626.76,94.18L627.50,96.65L628.23,99.14L628.97,101.63L629.71,104.13L630.45,106.64L631.19,109.15L631.94,111.67L632.68,114.20L633.43,116.73L634.18,119.26L634.94,121.79L635.71,124.32L636.48,126.86L637.25,129.39L638.03,131.93L638.82,134.46L639.62,136.99L640.43,139.52L641.25,142.04L642.07,144.56L642.91,147.08L643.76,149.58L644.62,152.09L645.49,154.58L646.38,157.06L647.28,159.54L648.20,162.01L649.14,164.46L650.09,166.91L651.06,169.35L652.05,171.78L653.06,174.22L654.09,176.64L655.14,179.07L656.22,181.48L657.32,183.89L658.45,186.30L659.61,188.69L660.80,191.08L662.02,193.45L663.27,195.82L664.56,198.17L665.89,200.51L667.25,202.84L668.66,205.16L670.10,207.45L671.60,209.73L673.14,211.99L674.73,214.23L676.38,216.45L678.08,218.64L679.85,220.81L681.67,222.94L683.56,225.05L685.51,227.12L687.54,229.15L689.64,231.14L691.81,233.09L694.06,235.00L696.39,236.86L698.80,238.66L701.30,240.42L703.88,242.12L706.55,243.76L709.31,245.35L712.15,246.87L715.09,248.34L718.11,249.74L721.23,251.08L724.43,252.36L727.73,253.58L731.11,254.73L734.58,255.83L738.13,256.87L741.76,257.85L745.47,258.77L749.26,259.64L753.12,260.46L757.05,261.23L761.04,261.95L765.09,262.63L769.20,263.26L773.35,263.85L777.55,264.41L781.80,264.93L786.08,265.41L790.40,265.87L794.75,266.30L799.13,266.69L803.53,267.07L807.96,267.42L812.41,267.75L816.88,268.06L821.37,268.35L825.87,268.62L830.38,268.88L834.91,269.12L839.45,269.35L844.00,269.56L848.56,269.77L853.13,269.96L857.70,270.14L862.29,270.31L866.87,270.48L871.47,270.63L876.07,270.78L880.67,270.92L885.28,271.06L889.89,271.18L894.51,271.30L899.13,271.42L903.75,271.53L908.38,271.64L913.00,271.74L917.64,271.83L922.27,271.92L926.90,272.01L931.54,272.10L936.18,272.18L940.82,272.26L945.46,272.33L950.10,272.40L954.74,272.47L959.39,272.54L964.04,272.60L968.68,272.66L973.33,272.72L977.98,272.78L982.63,272.83L987.28,272.88L991.94,272.93L996.59,272.98L1001.24,273.03L1005.90,273.08L1010.55,273.12L1015.20,273.16L1019.86,273.20L1024.52,273.24L1029.17,273.28L1033.83,273.32L1038.49,273.35L1043.15,273.39L1047.80,273.42L1052.46,273.45L1057.12,273.49L1061.78,273.52L1066.44,273.55L1071.10,273.58L1075.76,273.60L1080.42,273.63L1085.08,273.66L1089.74,273.68L1094.40,273.71L1099.06,273.73L1103.73,273.75L1108.39,273.78L1113.05,273.80L1117.71,273.82L1122.37,273.84L1127.04,273.86L1131.70,273.88L1136.36,273.90L1141.03,273.92L1141.03,274.92L1136.36,274.90L1131.70,274.88L1127.04,274.86L1122.37,274.84L1117.71,274.82L1113.05,274.80L1108.39,274.78L1103.73,274.75L1099.06,274.73L1094.40,274.71L1089.74,274.68L1085.08,274.66L1080.42,274.63L1075.76,274.61L1071.10,274.58L1066.44,274.55L1061.78,274.52L1057.12,274.49L1052.46,274.46L1047.80,274.43L1043.15,274.40L1038.49,274.36L1033.83,274.33L1029.17,274.29L1024.52,274.25L1019.86,274.22L1015.20,274.18L1010.55,274.13L1005.90,274.09L1001.24,274.05L996.59,274.00L991.94,273.95L987.28,273.90L982.63,273.85L977.98,273.80L973.33,273.75L968.68,273.69L964.04,273.63L959.39,273.57L954.74,273.50L950.10,273.44L945.46,273.37L940.82,273.30L936.18,273.22L931.54,273.14L926.90,273.06L922.27,272.98L917.64,272.89L913.00,272.79L908.38,272.69L903.75,272.59L899.13,272.49L894.51,272.37L889.89,272.26L885.28,272.13L880.67,272.00L876.07,271.86L871.47,271.72L866.87,271.57L862.29,271.41L857.70,271.24L853.13,271.06L848.56,270.87L844.00,270.68L839.45,270.46L834.91,270.24L830.38,270.00L825.87,269.75L821.37,269.48L816.88,269.20L812.41,268.90L807.96,268.58L803.53,268.23L799.13,267.86L794.75,267.47L790.40,267.06L786.08,266.61L781.80,266.13L777.55,265.62L773.35,265.08L769.20,264.50L765.09,263.88L761.04,263.22L757.05,262.51L753.12,261.76L749.26,260.96L745.47,260.11L741.76,259.21L738.13,258.26L734.58,257.26L731.11,256.19L727.73,255.08L724.43,253.90L721.23,252.67L718.11,251.39L715.09,250.04L712.15,248.64L709.31,247.19L706.55,245.68L703.88,244.12L701.30,242.50L698.80,240.84L696.39,239.13L694.06,237.37L691.81,235.58L689.64,233.74L687.54,231.86L685.51,229.95L683.56,228.01L681.67,226.04L679.85,224.04L678.08,222.01L676.38,219.96L674.73,217.89L673.14,215.79L671.60,213.68L670.10,211.55L668.66,209.40L667.25,207.24L665.89,205.06L664.56,202.88L663.27,200.68L662.02,198.46L660.80,196.24L659.61,194.01L658.45,191.77L657.32,189.52L656.22,187.27L655.14,185.00L654.09,182.73L653.06,180.45L652.05,178.17L651.06,175.88L650.09,173.58L649.14,171.28L648.20,168.98L647.28,166.68L646.38,164.39L645.49,162.09L644.62,159.80L643.76,157.51L642.91,155.22L642.07,152.93L641.25,150.64L640.43,148.35L639.62,146.06L638.82,143.77L638.03,141.48L637.25,139.18L636.48,136.88L635.71,134.57L634.94,132.26L634.18,129.95L633.43,127.63L632.68,125.30L631.94,122.97L631.19,120.63L630.45,118.28L629.71,115.92L628.97,113.55L628.23,111.18L627.50,108.79L626.76,106.40L626.02,103.99L625.27,101.57L624.53,99.15L623.78,96.71L623.03,94.26L622.27,91.80L621.50,89.33L620.73,86.84L619.94,84.35L619.15,81.85L618.34,79.34L617.52,76.83L616.68,74.31L615.82,71.79L614.93,69.26L614.02,66.74L613.08,64.21L612.10,61.69L611.07,59.18L610.00,56.70L608.87,54.26L607.69,51.90L606.45,50.61L605.21,49.66L604.02,48.68L602.97,48.00L602.08,47.56L601.30,47.28L600.57,47.11L599.85,47.02L599.13,47.02L598.42,47.06L597.70,47.07L596.95,47.07L596.11,47.11L595.14,47.27L594.02,47.70L592.80,48.81L591.57,50.93L590.38,53.24L589.24,55.66L588.16,58.14L587.14,60.66L586.16,63.19L585.23,65.73L584.32,68.27L583.45,70.82L582.61,73.36L581.79,75.89L580.98,78.43L580.20,80.95L579.43,83.47L578.68,85.99L577.93,88.50L577.20,91.01L576.48,93.50L575.76,95.97L575.05,98.43L574.35,100.88L573.65,103.31L572.96,105.74L572.27,108.15L571.58,110.55L570.89,112.94L570.21,115.32L569.53,117.70L568.85,120.06L568.17,122.42L567.49,124.77L566.81,127.12L566.12,129.46L565.44,131.79L564.75,134.12L564.06,136.45L563.37,138.77L562.68,141.09L561.98,143.40L561.28,145.72L560.57,148.04L559.86,150.35L559.14,152.67L558.42,154.99L557.69,157.31L556.95,159.63L556.21,161.96L555.45,164.29L554.69,166.63L553.92,168.96L553.14,171.30L552.35,173.63L551.54,175.95L550.73,178.27L549.90,180.59L549.06,182.91L548.20,185.22L547.33,187.53L546.45,189.84L545.54,192.14L544.62,194.43L543.68,196.73L542.72,199.02L541.74,201.30L540.74,203.58L539.71,205.85L538.66,208.12L537.59,210.39L536.49,212.65L535.36,214.90L534.21,217.15L533.03,219.40L531.81,221.64L530.57,223.88L529.30,226.11L527.99,228.34L526.65,230.56L525.28,232.78L523.88,235.00L522.45,237.21L520.98,239.41L519.48,241.61L517.95,243.80L516.39,245.99L514.79,248.16L513.16,250.31L511.50,252.45L509.81,254.58L508.09,256.69L506.34,258.79L504.56,260.89L502.75,262.98L500.93,265.06L499.07,267.14L497.20,269.23L495.31,271.31L493.41,273.40L491.50,275.50Z" fill="#008040" fill-opacity="0.33"/>
<path d="M491.50,275.50L493.41,273.25L495.31,271.02L497.20,268.78L499.07,266.55L500.93,264.33L502.75,262.11L504.56,259.88L506.34,257.66L508.09,255.44L509.81,253.21L511.50,250.99L513.16,248.76L514.79,246.52L516.39,244.28L517.95,242.03L519.48,239.78L520.98,237.53L522.45,235.26L523.88,233.00L525.28,230.72L526.65,228.44L527.99,226.15L529.30,223.86L530.57,221.56L531.81,219.26L533.03,216.95L534.21,214.63L535.36,212.31L536.49,209.98L537.59,207.65L538.66,205.31L539.71,202.96L540.74,200.61L541.74,198.25L542.72,195.89L543.68,193.52L544.62,191.15L545.54,188.78L546.45,186.39L547.33,184.01L548.20,181.62L549.06,179.23L549.90,176.84L550.73,174.44L551.54,172.04L552.35,169.63L553.14,167.23L553.92,164.82L554.69,162.41L555.45,159.99L556.21,157.58L556.95,155.16L557.69,152.74L558.42,150.32L559.14,147.89L559.86,145.47L560.57,143.04L561.28,140.61L561.98,138.18L562.68,135.75L563.37,133.32L564.06,130.89L564.75,128.45L565.44,126.02L566.12,123.58L566.81,121.14L567.49,118.70L568.17,116.26L568.85,113.82L569.53,111.38L570.21,108.95L570.89,106.51L571.58,104.07L572.27,101.64L572.96,99.20L573.65,96.77L574.35,94.35L575.05,91.92L575.76,89.50L576.48,87.08L577.20,84.66L577.93,82.25L578.68,79.84L579.43,77.43L580.20,75.04L580.98,72.65L581.79,70.26L582.61,67.89L583.45,65.53L584.32,63.19L585.23,60.86L586.16,58.56L587.14,56.29L588.16,54.07L589.24,51.91L590.38,49.84L591.57,47.90L592.80,46.18L594.02,44.75L595.14,43.68L596.11,42.96L596.95,42.49L597.70,42.19L598.42,42.00L599.13,41.92L599.85,41.94L600.57,42.07L601.30,42.30L602.08,42.67L602.97,43.24L604.02,44.11L605.21,45.34L606.45,46.91L607.69,48.74L608.87,50.74L610.00,52.86L611.07,55.05L612.10,57.29L613.08,59.58L614.02,61.89L614.93,64.23L615.82,66.58L616.68,68.94L617.52,71.32L618.34,73.71L619.15,76.10L619.94,78.50L620.73,80.91L621.50,83.32L622.27,85.73L623.03,88.15L623.78,90.58L624.53,93.00L625.27,95.43L626.02,97.86L626.76,100.29L627.50,102.72L628.23,105.16L628.97,107.59L629.71,110.03L630.45,112.46L631.19,114.89L631.94,117.32L632.68,119.75L633.43,122.18L634.18,124.60L634.94,127.03L635.71,129.45L636.48,131.87L637.25,134.28L638.03,136.70L638.82,139.11L639.62,141.53L640.43,143.94L641.25,146.34L642.07,148.75L642.91,151.15L643.76,153.55L644.62,155.94L645.49,158.34L646.38,160.72L647.28,163.11L648.20,165.49L649.14,167.87L650.09,170.24L651.06,172.61L652.05,174.98L653.06,177.33L654.09,179.69L655.14,182.03L656.22,184.37L657.32,186.71L658.45,189.03L659.61,191.35L660.80,193.66L662.02,195.96L663.27,198.25L664.56,200.52L665.89,202.79L667.25,205.04L668.66,207.28L670.10,209.50L671.60,211.71L673.14,213.89L674.73,216.06L676.38,218.20L678.08,220.33L679.85,222.42L681.67,224.49L683.56,226.53L685.51,228.54L687.54,230.51L689.64,232.44L691.81,234.34L694.06,236.19L696.39,237.99L698.80,239.75L701.30,241.46L703.88,243.12L706.55,244.72L709.31,246.27L712.15,247.76L715.09,249.19L718.11,250.56L721.23,251.88L724.43,253.13L727.73,254.33L731.11,255.46L734.58,256.54L738.13,257.56L741.76,258.53L745.47,259.44L749.26,260.30L753.12,261.11L757.05,261.87L761.04,262.58L765.09,263.25L769.20,263.88L773.35,264.47L777.55,265.02L781.80,265.53L786.08,266.01L790.40,266.46L794.75,266.88L799.13,267.28L803.53,267.65L807.96,268.00L812.41,268.32L816.88,268.63L821.37,268.92L825.87,269.19L830.38,269.44L834.91,269.68L839.45,269.91L844.00,270.12L848.56,270.32L853.13,270.51L857.70,270.69L862.29,270.86L866.87,271.02L871.47,271.18L876.07,271.32L880.67,271.46L885.28,271.59L889.89,271.72L894.51,271.84L899.13,271.95L903.75,272.06L908.38,272.17L913.00,272.26L917.64,272.36L922.27,272.45L926.90,272.54L931.54,272.62L936.18,272.70L940.82,272.78L945.46,272.85L950.10,272.92L954.74,272.99L959.39,273.05L964.04,273.11L968.68,273.18L973.33,273.23L977.98,273.29L982.63,273.34L987.28,273.39L991.94,273.44L996.59,273.49L1001.24,273.54L1005.90,273.58L1010.55,273.63L1015.20,273.67L1019.86,273.71L1024.52,273.75L1029.17,273.79L1033.83,273.82L1038.49,273.86L1043.15,273.89L1047.80,273.93L1052.46,273.96L1057.12,273.99L1061.78,274.02L1066.44,274.05L1071.10,274.08L1075.76,274.10L1080.42,274.13L1085.08,274.16L1089.74,274.18L1094.40,274.21L1099.06,274.23L1103.73,274.25L1108.39,274.28L1113.05,274.30L1117.71,274.32L1122.37,274.34L1127.04,274.36L1131.70,274.38L1136.36,274.40L1141.03,274.42" fill="none" stroke="#008040" stroke-width="1.35" stroke-linejoin="round"/>
<path d="M491.50,275.50L493.28,273.30L495.06,271.11L496.82,268.93L498.57,266.76L500.30,264.59L502.02,262.44L503.72,260.29L505.40,258.14L507.05,256.00L508.69,253.86L510.30,251.73L511.89,249.60L513.45,247.47L514.98,245.33L516.50,243.20L517.98,241.05L519.44,238.90L520.87,236.75L522.27,234.58L523.65,232.40L524.99,230.21L526.31,228.01L527.60,225.80L528.87,223.57L530.10,221.33L531.31,219.07L532.49,216.81L533.64,214.53L534.76,212.24L535.86,209.94L536.93,207.63L537.97,205.30L538.99,202.96L539.99,200.61L540.96,198.25L541.91,195.87L542.85,193.48L543.76,191.09L544.65,188.68L545.53,186.26L546.38,183.84L547.23,181.40L548.05,178.96L548.86,176.51L549.66,174.04L550.45,171.55L551.22,169.05L551.99,166.55L552.74,164.03L553.48,161.51L554.22,158.98L554.94,156.46L555.66,153.93L556.37,151.41L557.08,148.89L557.78,146.38L558.47,143.88L559.16,141.39L559.85,138.91L560.53,136.45L561.21,134.00L561.88,131.55L562.56,129.11L563.23,126.67L563.90,124.23L564.57,121.80L565.24,119.38L565.91,116.97L566.58,114.58L567.25,112.20L567.92,109.83L568.59,107.48L569.27,105.15L569.95,102.85L570.63,100.56L571.32,98.30L572.01,96.07L572.70,93.86L573.41,91.69L574.12,89.54L574.83,87.41L575.56,85.30L576.29,83.20L577.04,81.12L577.80,79.07L578.57,77.03L579.36,75.02L580.16,73.03L580.98,71.08L581.83,69.15L582.69,67.26L583.58,65.42L584.51,63.62L585.46,61.57L586.45,59.30L587.49,57.10L588.56,55.00L589.69,53.04L590.86,51.27L592.07,49.68L593.28,48.32L594.47,47.24L595.58,46.45L596.58,45.91L597.49,45.58L598.33,45.39L599.12,45.33L599.90,45.38L600.69,45.54L601.49,45.85L602.34,46.33L603.28,47.02L604.31,47.98L605.44,49.25L606.64,50.90L607.86,52.92L609.06,54.79L610.21,56.10L611.33,57.54L612.40,59.09L613.42,60.74L614.41,62.47L615.36,64.26L616.29,66.11L617.19,68.00L618.06,69.94L618.92,71.92L619.76,73.94L620.58,76.01L621.39,78.12L622.19,80.26L622.98,82.44L623.76,84.64L624.53,86.88L625.30,89.14L626.06,91.42L626.81,93.72L627.57,96.04L628.32,98.38L629.07,100.73L629.81,103.09L630.56,105.47L631.31,107.85L632.06,110.24L632.80,112.63L633.55,115.03L634.31,117.42L635.06,119.81L635.82,122.22L636.58,124.62L637.35,127.04L638.12,129.45L638.90,131.87L639.68,134.29L640.47,136.72L641.27,139.14L642.07,141.57L642.89,143.99L643.71,146.41L644.54,148.83L645.39,151.24L646.24,153.65L647.11,156.05L647.99,158.45L648.88,160.84L649.79,163.23L650.71,165.61L651.65,167.98L652.61,170.35L653.58,172.71L654.58,175.07L655.59,177.41L656.62,179.75L657.67,182.08L658.75,184.40L659.85,186.71L660.98,189.00L662.13,191.29L663.32,193.55L664.53,195.81L665.77,198.04L667.04,200.26L668.35,202.46L669.69,204.64L671.07,206.80L672.49,208.93L673.95,211.04L675.45,213.13L676.99,215.18L678.58,217.22L680.22,219.22L681.90,221.19L683.64,223.13L685.43,225.03L687.27,226.90L689.16,228.73L691.11,230.52L693.12,232.27L695.18,233.97L697.31,235.63L699.49,237.25L701.74,238.81L704.04,240.33L706.41,241.80L708.84,243.23L711.33,244.60L713.88,245.92L716.48,247.19L719.15,248.42L721.88,249.59L724.67,250.72L727.51,251.80L730.40,252.83L733.35,253.82L736.35,254.76L739.39,255.65L742.49,256.51L745.62,257.32L748.80,258.10L752.02,258.84L755.27,259.54L758.56,260.21L761.88,260.84L765.23,261.44L768.61,262.01L772.02,262.56L775.45,263.07L778.90,263.56L782.37,264.02L785.86,264.46L789.37,264.88L792.89,265.28L796.43,265.66L799.98,266.02L803.55,266.36L807.12,266.68L810.71,266.99L814.31,267.28L817.92,267.56L821.53,267.82L825.15,268.08L828.78,268.32L832.42,268.55L836.06,268.76L839.71,268.97L843.37,269.17L847.02,269.36L850.69,269.54L854.36,269.71L858.03,269.88L861.70,270.03L865.38,270.19L869.06,270.33L872.75,270.47L876.44,270.60L880.13,270.73L883.82,270.85L887.52,270.96L891.21,271.07L894.91,271.18L898.61,271.28L902.32,271.38L906.02,271.48L909.73,271.57L913.43,271.65L917.14,271.74L920.85,271.82L924.56,271.90L928.28,271.97L931.99,272.04L935.70,272.11L939.42,272.18L943.13,272.24L946.85,272.31L950.57,272.37L954.29,272.43L958.01,272.48L961.73,272.54L965.45,272.59L969.17,272.64L972.89,272.69L976.61,272.73L980.33,272.78L984.06,272.82L987.78,272.87L991.50,272.91L995.23,272.95L998.95,272.99L1002.68,273.03L1006.40,273.06L1010.13,273.10L1013.85,273.13L1017.58,273.17L1021.31,273.20L1025.03,273.23L1028.76,273.26L1032.49,273.29L1036.22,273.32L1039.94,273.35L1039.94,274.55L1036.22,274.52L1032.49,274.49L1028.76,274.46L1025.03,274.43L1021.31,274.40L1017.58,274.37L1013.85,274.34L1010.13,274.30L1006.40,274.27L1002.68,274.24L998.95,274.20L995.23,274.16L991.50,274.13L987.78,274.09L984.06,274.05L980.33,274.01L976.61,273.96L972.89,273.92L969.17,273.87L965.45,273.83L961.73,273.78L958.01,273.73L954.29,273.68L950.57,273.62L946.85,273.57L943.13,273.51L939.42,273.45L935.70,273.39L931.99,273.32L928.28,273.26L924.56,273.19L920.85,273.12L917.14,273.04L913.43,272.96L909.73,272.88L906.02,272.80L902.32,272.71L898.61,272.62L894.91,272.52L891.21,272.43L887.52,272.32L883.82,272.21L880.13,272.10L876.44,271.98L872.75,271.86L869.06,271.73L865.38,271.59L861.70,271.45L858.03,271.30L854.36,271.15L850.69,270.98L847.02,270.81L843.37,270.63L839.71,270.45L836.06,270.25L832.42,270.04L828.78,269.82L825.15,269.59L821.53,269.35L817.92,269.10L814.31,268.83L810.71,268.55L807.12,268.25L803.55,267.94L799.98,267.62L796.43,267.27L792.89,266.91L789.37,266.52L785.86,266.12L782.37,265.70L778.90,265.25L775.45,264.77L772.02,264.28L768.61,263.75L765.23,263.20L761.88,262.62L758.56,262.00L755.27,261.36L752.02,260.68L748.80,259.97L745.62,259.22L742.49,258.44L739.39,257.61L736.35,256.75L733.35,255.85L730.40,254.91L727.51,253.92L724.67,252.90L721.88,251.83L719.15,250.72L716.48,249.57L713.88,248.37L711.33,247.13L708.84,245.85L706.41,244.53L704.04,243.17L701.74,241.76L699.49,240.32L697.31,238.83L695.18,237.31L693.12,235.76L691.11,234.17L689.16,232.54L687.27,230.88L685.43,229.20L683.64,227.48L681.90,225.74L680.22,223.97L678.58,222.18L676.99,220.36L675.45,218.52L673.95,216.67L672.49,214.79L671.07,212.90L669.69,210.99L668.35,209.08L667.04,207.15L665.77,205.20L664.53,203.25L663.32,201.29L662.13,199.32L660.98,197.34L659.85,195.35L658.75,193.36L657.67,191.35L656.62,189.34L655.59,187.33L654.58,185.30L653.58,183.27L652.61,181.24L651.65,179.19L650.71,177.15L649.79,175.09L648.88,173.03L647.99,170.97L647.11,168.90L646.24,166.83L645.39,164.76L644.54,162.69L643.71,160.61L642.89,158.53L642.07,156.45L641.27,154.36L640.47,152.26L639.68,150.16L638.90,148.05L638.12,145.93L637.35,143.80L636.58,141.67L635.82,139.53L635.06,137.37L634.31,135.21L633.55,133.04L632.80,130.86L632.06,128.68L631.31,126.50L630.56,124.30L629.81,122.10L629.07,119.89L628.32,117.68L627.57,115.45L626.81,113.21L626.06,110.96L625.30,108.70L624.53,106.42L623.76,104.12L622.98,101.81L622.19,99.48L621.39,97.13L620.58,94.76L619.76,92.36L618.92,89.95L618.06,87.51L617.19,85.05L616.29,82.60L615.36,80.50L614.41,78.72L613.42,76.91L612.40,75.09L611.33,73.31L610.21,71.55L609.06,69.77L607.86,67.65L606.64,65.48L605.44,63.75L604.31,62.49L603.28,61.55L602.34,60.88L601.49,60.42L600.69,60.13L599.90,59.97L599.12,59.94L598.33,60.02L597.49,60.21L596.58,60.56L595.58,61.11L594.47,61.92L593.28,63.01L592.07,64.37L590.86,65.96L589.69,67.74L588.56,69.70L587.49,71.99L586.45,74.46L585.46,76.93L584.51,79.42L583.58,81.91L582.69,84.39L581.83,86.87L580.98,89.35L580.16,91.82L579.36,94.28L578.57,96.74L577.80,99.19L577.04,101.62L576.29,104.06L575.56,106.48L574.83,108.89L574.12,111.30L573.41,113.70L572.70,116.07L572.01,118.42L571.32,120.75L570.63,123.06L569.95,125.35L569.27,127.62L568.59,129.87L567.92,132.11L567.25,134.34L566.58,136.55L565.91,138.74L565.24,140.93L564.57,143.11L563.90,145.27L563.23,147.43L562.56,149.58L561.88,151.72L561.21,153.86L560.53,155.99L559.85,158.10L559.16,160.19L558.47,162.27L557.78,164.33L557.08,166.38L556.37,168.42L555.66,170.45L554.94,172.47L554.22,174.48L553.48,176.49L552.74,178.49L551.99,180.50L551.22,182.50L550.45,184.51L549.66,186.52L548.86,188.53L548.05,190.56L547.23,192.59L546.38,194.61L545.53,196.64L544.65,198.66L543.76,200.68L542.85,202.69L541.91,204.71L540.96,206.72L539.99,208.73L538.99,210.74L537.97,212.75L536.93,214.76L535.86,216.76L534.76,218.76L533.64,220.76L532.49,222.76L531.31,224.76L530.10,226.75L528.87,228.74L527.60,230.74L526.31,232.73L524.99,234.72L523.65,236.72L522.27,238.71L520.87,240.70L519.44,242.69L517.98,244.67L516.50,246.65L514.98,248.62L513.45,250.59L511.89,252.54L510.30,254.49L508.69,256.43L507.05,258.36L505.40,260.28L503.72,262.20L502.02,264.11L500.30,266.01L498.57,267.91L496.82,269.81L495.06,271.70L493.28,273.60L491.50,275.50Z" fill="#0000cd" fill-opacity="0.33"/>
<path d="M491.50,275.50L493.28,273.45L495.06,271.41L496.82,269.37L498.57,267.33L500.30,265.30L502.02,263.27L503.72,261.24L505.40,259.21L507.05,257.18L508.69,255.15L510.30,253.11L511.89,251.07L513.45,249.03L514.98,246.98L516.50,244.92L517.98,242.86L519.44,240.80L520.87,238.72L522.27,236.65L523.65,234.56L524.99,232.47L526.31,230.37L527.60,228.27L528.87,226.16L530.10,224.04L531.31,221.91L532.49,219.78L533.64,217.65L534.76,215.50L535.86,213.35L536.93,211.19L537.97,209.02L538.99,206.85L539.99,204.67L540.96,202.48L541.91,200.29L542.85,198.09L543.76,195.88L544.65,193.67L545.53,191.45L546.38,189.23L547.23,187.00L548.05,184.76L548.86,182.52L549.66,180.28L550.45,178.03L551.22,175.78L551.99,173.52L552.74,171.26L553.48,169.00L554.22,166.73L554.94,164.46L555.66,162.19L556.37,159.92L557.08,157.64L557.78,155.36L558.47,153.08L559.16,150.79L559.85,148.51L560.53,146.22L561.21,143.93L561.88,141.64L562.56,139.34L563.23,137.05L563.90,134.75L564.57,132.46L565.24,130.16L565.91,127.86L566.58,125.56L567.25,123.27L567.92,120.97L568.59,118.68L569.27,116.39L569.95,114.10L570.63,111.81L571.32,109.53L572.01,107.25L572.70,104.97L573.41,102.69L574.12,100.42L574.83,98.15L575.56,95.89L576.29,93.63L577.04,91.37L577.80,89.13L578.57,86.88L579.36,84.65L580.16,82.43L580.98,80.21L581.83,78.01L582.69,75.83L583.58,73.66L584.51,71.52L585.46,69.40L586.45,67.32L587.49,65.29L588.56,63.32L589.69,61.43L590.86,59.66L592.07,58.05L593.28,56.64L594.47,55.50L595.58,54.63L596.58,54.01L597.49,53.60L598.33,53.34L599.12,53.19L599.90,53.16L600.69,53.23L601.49,53.40L602.34,53.70L603.28,54.17L604.31,54.86L605.44,55.81L606.64,57.04L607.86,58.52L609.06,60.19L610.21,62.00L611.33,63.92L612.40,65.92L613.42,67.97L614.41,70.07L615.36,72.20L616.29,74.35L617.19,76.53L618.06,78.72L618.92,80.93L619.76,83.15L620.58,85.38L621.39,87.62L622.19,89.87L622.98,92.12L623.76,94.38L624.53,96.65L625.30,98.92L626.06,101.19L626.81,103.47L627.57,105.74L628.32,108.03L629.07,110.31L629.81,112.60L630.56,114.89L631.31,117.17L632.06,119.46L632.80,121.75L633.55,124.03L634.31,126.31L635.06,128.59L635.82,130.87L636.58,133.15L637.35,135.42L638.12,137.69L638.90,139.96L639.68,142.23L640.47,144.49L641.27,146.75L642.07,149.01L642.89,151.26L643.71,153.51L644.54,155.76L645.39,158.00L646.24,160.24L647.11,162.48L647.99,164.71L648.88,166.94L649.79,169.16L650.71,171.38L651.65,173.59L652.61,175.79L653.58,177.99L654.58,180.18L655.59,182.37L656.62,184.55L657.67,186.72L658.75,188.88L659.85,191.03L660.98,193.17L662.13,195.30L663.32,197.42L664.53,199.53L665.77,201.62L667.04,203.70L668.35,205.77L669.69,207.82L671.07,209.85L672.49,211.86L673.95,213.85L675.45,215.82L676.99,217.77L678.58,219.70L680.22,221.59L681.90,223.46L683.64,225.31L685.43,227.12L687.27,228.89L689.16,230.64L691.11,232.34L693.12,234.01L695.18,235.64L697.31,237.23L699.49,238.78L701.74,240.29L704.04,241.75L706.41,243.17L708.84,244.54L711.33,245.87L713.88,247.15L716.48,248.38L719.15,249.57L721.88,250.71L724.67,251.81L727.51,252.86L730.40,253.87L733.35,254.83L736.35,255.75L739.39,256.63L742.49,257.47L745.62,258.27L748.80,259.03L752.02,259.76L755.27,260.45L758.56,261.11L761.88,261.73L765.23,262.32L768.61,262.88L772.02,263.42L775.45,263.92L778.90,264.40L782.37,264.86L785.86,265.29L789.37,265.70L792.89,266.09L796.43,266.46L799.98,266.82L803.55,267.15L807.12,267.47L810.71,267.77L814.31,268.06L817.92,268.33L821.53,268.59L825.15,268.83L828.78,269.07L832.42,269.29L836.06,269.51L839.71,269.71L843.37,269.90L847.02,270.09L850.69,270.26L854.36,270.43L858.03,270.59L861.70,270.74L865.38,270.89L869.06,271.03L872.75,271.16L876.44,271.29L880.13,271.41L883.82,271.53L887.52,271.64L891.21,271.75L894.91,271.85L898.61,271.95L902.32,272.05L906.02,272.14L909.73,272.22L913.43,272.31L917.14,272.39L920.85,272.47L924.56,272.54L928.28,272.61L931.99,272.68L935.70,272.75L939.42,272.82L943.13,272.88L946.85,272.94L950.57,272.99L954.29,273.05L958.01,273.10L961.73,273.16L965.45,273.21L969.17,273.26L972.89,273.30L976.61,273.35L980.33,273.39L984.06,273.44L987.78,273.48L991.50,273.52L995.23,273.56L998.95,273.59L1002.68,273.63L1006.40,273.67L1010.13,273.70L1013.85,273.74L1017.58,273.77L1021.31,273.80L1025.03,273.83L1028.76,273.86L1032.49,273.89L1036.22,273.92L1039.94,273.95" fill="none" stroke="#0000cd" stroke-width="1.35" stroke-linejoin="round"/>
<path d="M491.50,275.50L493.05,273.52L494.60,271.55L496.14,269.59L497.68,267.64L499.20,265.70L500.72,263.77L502.22,261.85L503.71,259.94L505.18,258.04L506.64,256.16L508.09,254.28L509.52,252.40L510.94,250.52L512.33,248.64L513.71,246.75L515.08,244.86L516.42,242.96L517.74,241.05L519.05,239.13L520.34,237.21L521.60,235.27L522.85,233.32L524.07,231.36L525.28,229.39L526.46,227.41L527.62,225.43L528.77,223.43L529.88,221.42L530.98,219.41L532.06,217.38L533.11,215.34L534.15,213.29L535.16,211.22L536.15,209.15L537.13,207.06L538.08,204.97L539.01,202.86L539.93,200.74L540.83,198.61L541.72,196.47L542.58,194.33L543.43,192.17L544.27,190.00L545.10,187.83L545.91,185.65L546.71,183.46L547.49,181.27L548.27,179.07L549.04,176.87L549.79,174.66L550.54,172.44L551.28,170.22L552.01,168.00L552.74,165.78L553.46,163.55L554.17,161.32L554.88,159.09L555.58,156.85L556.28,154.62L556.98,152.38L557.67,150.14L558.36,147.90L559.05,145.66L559.74,143.42L560.42,141.18L561.11,138.94L561.80,136.70L562.48,134.45L563.17,132.19L563.85,129.92L564.54,127.65L565.23,125.37L565.92,123.10L566.61,120.83L567.31,118.57L568.01,116.31L568.71,114.06L569.42,111.83L570.13,109.61L570.85,107.40L571.58,105.22L572.31,103.06L573.05,100.92L573.80,98.81L574.55,96.72L575.32,94.67L576.09,92.66L576.88,90.68L577.68,88.75L578.49,86.84L579.31,84.95L580.15,83.08L581.01,81.23L581.88,79.39L582.77,77.58L583.68,75.80L584.61,74.05L585.57,72.33L586.54,70.66L587.55,69.03L588.58,67.47L589.65,65.97L590.74,64.56L591.86,63.25L593.01,62.06L594.17,61.03L595.33,59.97L596.46,59.12L597.55,58.56L598.57,58.31L599.53,58.25L600.42,58.28L601.26,58.39L602.08,58.61L602.89,58.92L603.70,59.26L604.55,59.45L605.44,59.72L606.38,60.09L607.37,60.60L608.40,61.25L609.44,62.06L610.48,63.05L611.51,64.20L612.50,65.51L613.47,66.92L614.40,68.43L615.30,70.00L616.17,71.64L617.01,73.34L617.83,75.08L618.63,76.86L619.42,78.68L620.18,80.54L620.93,82.42L621.67,84.33L622.40,86.26L623.12,88.22L623.83,90.20L624.53,92.20L625.22,94.22L625.92,96.26L626.60,98.31L627.29,100.38L627.97,102.46L628.65,104.56L629.33,106.67L630.01,108.79L630.69,110.92L631.37,113.06L632.05,115.21L632.73,117.36L633.41,119.52L634.09,121.69L634.78,123.86L635.47,126.03L636.17,128.22L636.87,130.40L637.57,132.59L638.28,134.79L638.99,136.99L639.72,139.19L640.45,141.39L641.18,143.60L641.93,145.81L642.68,148.02L643.44,150.22L644.22,152.43L645.00,154.64L645.79,156.84L646.60,159.04L647.41,161.24L648.24,163.43L649.09,165.62L649.94,167.80L650.82,169.97L651.70,172.14L652.61,174.30L653.53,176.45L654.46,178.59L655.42,180.72L656.39,182.83L657.39,184.94L658.40,187.03L659.44,189.10L660.49,191.16L661.57,193.21L662.68,195.25L663.80,197.27L664.96,199.27L666.14,201.26L667.34,203.23L668.58,205.18L669.84,207.10L671.13,209.01L672.45,210.89L673.80,212.74L675.19,214.57L676.60,216.36L678.05,218.13L679.53,219.86L681.05,221.56L682.60,223.23L684.18,224.85L685.80,226.44L687.46,227.97L689.15,229.45L690.88,230.89L692.64,232.28L694.44,233.63L696.28,234.89L698.15,236.03L700.06,237.13L702.00,238.24L703.98,239.46L706.00,240.79L708.04,242.17L710.12,243.53L712.24,244.79L714.39,245.96L716.56,247.08L718.77,248.15L721.01,249.17L723.28,250.13L725.57,251.04L727.89,251.90L730.24,252.72L732.61,253.52L735.01,254.28L737.43,255.00L739.87,255.70L742.33,256.37L744.81,257.01L747.30,257.62L749.82,258.21L752.35,258.77L754.90,259.31L757.46,259.82L760.03,260.31L762.62,260.79L765.22,261.24L767.83,261.67L770.46,262.09L773.09,262.49L775.73,262.87L778.38,263.24L781.03,263.60L783.70,263.94L786.37,264.26L789.05,264.58L791.74,264.88L794.43,265.17L797.12,265.45L799.82,265.72L802.53,265.98L805.24,266.23L807.95,266.47L810.67,266.70L813.39,266.93L816.12,267.15L818.84,267.36L821.57,267.56L824.31,267.76L827.04,267.95L829.78,268.13L832.52,268.31L835.27,268.49L838.01,268.66L840.76,268.82L843.50,268.98L846.25,269.13L849.00,269.28L851.76,269.43L854.51,269.57L857.26,269.71L860.02,269.84L862.78,269.98L865.53,270.10L868.29,270.23L871.05,270.35L873.81,270.47L876.58,270.58L879.34,270.69L882.10,270.80L884.86,270.91L887.63,271.01L890.39,271.11L893.16,271.21L895.92,271.31L898.69,271.40L901.46,271.49L904.22,271.58L906.99,271.67L909.76,271.75L912.53,271.84L915.30,271.92L918.07,272.00L920.84,272.07L923.61,272.15L923.61,273.35L920.84,273.28L918.07,273.20L915.30,273.13L912.53,273.05L909.76,272.97L906.99,272.89L904.22,272.81L901.46,272.72L898.69,272.64L895.92,272.55L893.16,272.46L890.39,272.37L887.63,272.27L884.86,272.18L882.10,272.08L879.34,271.98L876.58,271.88L873.81,271.77L871.05,271.66L868.29,271.55L865.53,271.44L862.78,271.32L860.02,271.20L857.26,271.08L854.51,270.95L851.76,270.82L849.00,270.69L846.25,270.55L843.50,270.41L840.76,270.26L838.01,270.11L835.27,269.95L832.52,269.79L829.78,269.63L827.04,269.46L824.31,269.28L821.57,269.10L818.84,268.91L816.12,268.71L813.39,268.51L810.67,268.30L807.95,268.08L805.24,267.85L802.53,267.62L799.82,267.38L797.12,267.12L794.43,266.86L791.74,266.58L789.05,266.30L786.37,266.00L783.70,265.69L781.03,265.37L778.38,265.03L775.73,264.68L773.09,264.32L770.46,263.93L767.83,263.54L765.22,263.12L762.62,262.68L760.03,262.23L757.46,261.75L754.90,261.26L752.35,260.74L749.82,260.21L747.30,259.64L744.81,259.06L742.33,258.45L739.87,257.82L737.43,257.16L735.01,256.47L732.61,255.76L730.24,255.02L727.89,254.24L725.57,253.45L723.28,252.62L721.01,251.80L718.77,250.96L716.56,250.10L714.39,249.23L712.24,248.33L710.12,247.46L708.04,246.61L706.00,245.72L703.98,244.70L702.00,243.49L700.06,242.12L698.15,240.65L696.28,239.17L694.44,237.74L692.64,236.32L690.88,234.88L689.15,233.42L687.46,231.94L685.80,230.46L684.18,228.96L682.60,227.45L681.05,225.91L679.53,224.36L678.05,222.79L676.60,221.20L675.19,219.59L673.80,217.97L672.45,216.33L671.13,214.67L669.84,212.99L668.58,211.30L667.34,209.59L666.14,207.87L664.96,206.13L663.80,204.38L662.68,202.61L661.57,200.83L660.49,199.04L659.44,197.23L658.40,195.41L657.39,193.58L656.39,191.75L655.42,189.90L654.46,188.05L653.53,186.19L652.61,184.32L651.70,182.45L650.82,180.57L649.94,178.68L649.09,176.78L648.24,174.87L647.41,172.96L646.60,171.04L645.79,169.11L645.00,167.17L644.22,165.23L643.44,163.28L642.68,161.31L641.93,159.34L641.18,157.36L640.45,155.37L639.72,153.37L638.99,151.36L638.28,149.35L637.57,147.32L636.87,145.28L636.17,143.23L635.47,141.16L634.78,139.09L634.09,137.00L633.41,134.91L632.73,132.80L632.05,130.68L631.37,128.55L630.69,126.41L630.01,124.26L629.33,122.11L628.65,119.94L627.97,117.77L627.29,115.59L626.60,113.40L625.92,111.20L625.22,109.00L624.53,106.80L623.83,104.58L623.12,102.36L622.40,100.14L621.67,97.91L620.93,95.67L620.18,93.44L619.42,91.20L618.63,88.96L617.83,86.73L617.01,84.51L616.17,82.29L615.30,80.10L614.40,77.93L613.47,75.80L612.50,73.73L611.51,71.74L610.48,69.84L609.44,68.06L608.40,66.47L607.37,65.11L606.38,64.02L605.44,63.20L604.55,62.61L603.70,62.22L602.89,62.01L602.08,61.94L601.26,62.03L600.42,62.27L599.53,62.68L598.57,63.28L597.55,64.11L596.46,65.17L595.33,66.45L594.17,67.94L593.01,69.59L591.86,71.37L590.74,73.25L589.65,75.20L588.58,77.22L587.55,79.27L586.54,81.36L585.57,83.47L584.61,85.60L583.68,87.75L582.77,89.90L581.88,92.06L581.01,94.23L580.15,96.40L579.31,98.56L578.49,100.73L577.68,102.90L576.88,105.06L576.09,107.22L575.32,109.37L574.55,111.51L573.80,113.65L573.05,115.78L572.31,117.91L571.58,120.03L570.85,122.15L570.13,124.26L569.42,126.37L568.71,128.47L568.01,130.57L567.31,132.67L566.61,134.76L565.92,136.85L565.23,138.94L564.54,141.03L563.85,143.11L563.17,145.20L562.48,147.29L561.80,149.37L561.11,151.46L560.42,153.54L559.74,155.61L559.05,157.67L558.36,159.73L557.67,161.78L556.98,163.83L556.28,165.86L555.58,167.89L554.88,169.92L554.17,171.93L553.46,173.94L552.74,175.95L552.01,177.95L551.28,179.94L550.54,181.92L549.79,183.90L549.04,185.87L548.27,187.84L547.49,189.80L546.71,191.76L545.91,193.71L545.10,195.65L544.27,197.59L543.43,199.52L542.58,201.44L541.72,203.36L540.83,205.27L539.93,207.17L539.01,209.07L538.08,210.96L537.13,212.85L536.15,214.73L535.16,216.60L534.15,218.47L533.11,220.34L532.06,222.19L530.98,224.05L529.88,225.90L528.77,227.74L527.62,229.58L526.46,231.41L525.28,233.25L524.07,235.07L522.85,236.89L521.60,238.71L520.34,240.52L519.05,242.34L517.74,244.14L516.42,245.95L515.08,247.75L513.71,249.55L512.33,251.34L510.94,253.13L509.52,254.91L508.09,256.68L506.64,258.45L505.18,260.20L503.71,261.94L502.22,263.67L500.72,265.38L499.20,267.08L497.68,268.78L496.14,270.46L494.60,272.14L493.05,273.82L491.50,275.50Z" fill="#9400d3" fill-opacity="0.33"/>
<path d="M491.50,275.50L493.05,273.67L494.60,271.85L496.14,270.02L497.68,268.21L499.20,266.39L500.72,264.57L502.22,262.76L503.71,260.94L505.18,259.12L506.64,257.30L508.09,255.48L509.52,253.65L510.94,251.82L512.33,249.99L513.71,248.15L515.08,246.31L516.42,244.45L517.74,242.60L519.05,240.73L520.34,238.86L521.60,236.99L522.85,235.10L524.07,233.21L525.28,231.32L526.46,229.41L527.62,227.50L528.77,225.58L529.88,223.65L530.98,221.72L532.06,219.78L533.11,217.83L534.15,215.87L535.16,213.90L536.15,211.93L537.13,209.94L538.08,207.95L539.01,205.95L539.93,203.94L540.83,201.93L541.72,199.90L542.58,197.87L543.43,195.84L544.27,193.79L545.10,191.74L545.91,189.68L546.71,187.61L547.49,185.54L548.27,183.47L549.04,181.38L549.79,179.30L550.54,177.20L551.28,175.11L552.01,173.01L552.74,170.90L553.46,168.79L554.17,166.68L554.88,164.57L555.58,162.45L556.28,160.32L556.98,158.20L557.67,156.07L558.36,153.94L559.05,151.81L559.74,149.67L560.42,147.53L561.11,145.40L561.80,143.26L562.48,141.12L563.17,138.98L563.85,136.84L564.54,134.70L565.23,132.57L565.92,130.44L566.61,128.31L567.31,126.19L568.01,124.06L568.71,121.95L569.42,119.83L570.13,117.72L570.85,115.61L571.58,113.50L572.31,111.40L573.05,109.30L573.80,107.21L574.55,105.12L575.32,103.04L576.09,100.97L576.88,98.90L577.68,96.84L578.49,94.78L579.31,92.74L580.15,90.70L581.01,88.68L581.88,86.67L582.77,84.67L583.68,82.69L584.61,80.73L585.57,78.80L586.54,76.89L587.55,75.02L588.58,73.19L589.65,71.41L590.74,69.70L591.86,68.08L593.01,66.56L594.17,65.18L595.33,63.96L596.46,62.93L597.55,62.11L598.57,61.48L599.53,61.04L600.42,60.75L601.26,60.58L602.08,60.53L602.89,60.58L603.70,60.75L604.55,61.03L605.44,61.46L606.38,62.06L607.37,62.85L608.40,63.86L609.44,65.06L610.48,66.44L611.51,67.97L612.50,69.62L613.47,71.36L614.40,73.18L615.30,75.05L616.17,76.97L617.01,78.92L617.83,80.90L618.63,82.91L619.42,84.94L620.18,86.99L620.93,89.05L621.67,91.12L622.40,93.20L623.12,95.29L623.83,97.39L624.53,99.50L625.22,101.61L625.92,103.73L626.60,105.85L627.29,107.98L627.97,110.11L628.65,112.25L629.33,114.39L630.01,116.53L630.69,118.67L631.37,120.81L632.05,122.95L632.73,125.08L633.41,127.21L634.09,129.35L634.78,131.47L635.47,133.60L636.17,135.72L636.87,137.84L637.57,139.95L638.28,142.07L638.99,144.18L639.72,146.28L640.45,148.38L641.18,150.48L641.93,152.58L642.68,154.66L643.44,156.75L644.22,158.83L645.00,160.91L645.79,162.98L646.60,165.04L647.41,167.10L648.24,169.15L649.09,171.20L649.94,173.24L650.82,175.27L651.70,177.29L652.61,179.31L653.53,181.32L654.46,183.32L655.42,185.31L656.39,187.29L657.39,189.26L658.40,191.22L659.44,193.17L660.49,195.10L661.57,197.02L662.68,198.93L663.80,200.82L664.96,202.70L666.14,204.57L667.34,206.41L668.58,208.24L669.84,210.05L671.13,211.84L672.45,213.61L673.80,215.36L675.19,217.08L676.60,218.78L678.05,220.46L679.53,222.11L681.05,223.74L682.60,225.34L684.18,226.91L685.80,228.45L687.46,229.96L689.15,231.44L690.88,232.88L692.64,234.30L694.44,235.68L696.28,237.03L698.15,238.34L700.06,239.62L702.00,240.87L703.98,242.08L706.00,243.25L708.04,244.39L710.12,245.49L712.24,246.56L714.39,247.59L716.56,248.59L718.77,249.55L721.01,250.48L723.28,251.38L725.57,252.24L727.89,253.07L730.24,253.87L732.61,254.64L735.01,255.37L737.43,256.08L739.87,256.76L742.33,257.41L744.81,258.03L747.30,258.63L749.82,259.21L752.35,259.76L754.90,260.28L757.46,260.79L760.03,261.27L762.62,261.73L765.22,262.18L767.83,262.60L770.46,263.01L773.09,263.40L775.73,263.78L778.38,264.14L781.03,264.48L783.70,264.81L786.37,265.13L789.05,265.44L791.74,265.73L794.43,266.01L797.12,266.29L799.82,266.55L802.53,266.80L805.24,267.04L807.95,267.28L810.67,267.50L813.39,267.72L816.12,267.93L818.84,268.13L821.57,268.33L824.31,268.52L827.04,268.70L829.78,268.88L832.52,269.05L835.27,269.22L838.01,269.38L840.76,269.54L843.50,269.69L846.25,269.84L849.00,269.99L851.76,270.13L854.51,270.26L857.26,270.39L860.02,270.52L862.78,270.65L865.53,270.77L868.29,270.89L871.05,271.01L873.81,271.12L876.58,271.23L879.34,271.34L882.10,271.44L884.86,271.54L887.63,271.64L890.39,271.74L893.16,271.84L895.92,271.93L898.69,272.02L901.46,272.11L904.22,272.19L906.99,272.28L909.76,272.36L912.53,272.44L915.30,272.52L918.07,272.60L920.84,272.67L923.61,272.75" fill="none" stroke="#9400d3" stroke-width="1.35" stroke-linejoin="round"/>
<path d="M491.50,275.50L492.80,273.80L494.10,272.11L495.40,270.43L496.69,268.76L497.98,267.10L499.26,265.45L500.54,263.82L501.82,262.20L503.08,260.59L504.35,258.99L505.60,257.39L506.85,255.79L508.09,254.19L509.33,252.59L510.55,250.99L511.77,249.38L512.98,247.77L514.19,246.15L515.38,244.54L516.56,242.91L517.74,241.28L518.90,239.65L520.06,238.01L521.20,236.36L522.33,234.71L523.45,233.05L524.56,231.39L525.65,229.71L526.73,228.03L527.80,226.34L528.85,224.64L529.89,222.93L530.91,221.21L531.91,219.48L532.90,217.74L533.87,215.98L534.82,214.21L535.76,212.43L536.68,210.64L537.58,208.83L538.47,207.01L539.34,205.17L540.20,203.32L541.04,201.46L541.87,199.59L542.68,197.71L543.48,195.81L544.27,193.90L545.04,191.99L545.80,190.06L546.55,188.13L547.29,186.18L548.02,184.23L548.73,182.27L549.44,180.31L550.14,178.34L550.83,176.36L551.51,174.39L552.19,172.40L552.85,170.42L553.52,168.43L554.17,166.44L554.82,164.45L555.46,162.46L556.10,160.46L556.73,158.46L557.36,156.46L557.99,154.46L558.61,152.46L559.23,150.45L559.85,148.44L560.46,146.44L561.08,144.43L561.69,142.42L562.30,140.40L562.91,138.39L563.52,136.37L564.12,134.36L564.73,132.34L565.34,130.33L565.95,128.31L566.56,126.30L567.17,124.29L567.78,122.28L568.39,120.24L569.01,118.16L569.62,116.06L570.24,113.95L570.86,111.83L571.49,109.71L572.11,107.59L572.75,105.49L573.38,103.40L574.03,101.35L574.67,99.33L575.33,97.36L575.99,95.44L576.66,93.58L577.33,91.76L578.02,89.96L578.71,87.81L579.41,85.66L580.12,83.52L580.85,81.37L581.59,79.20L582.34,77.03L583.10,74.90L583.88,72.88L584.68,70.98L585.49,69.14L586.32,67.35L587.17,65.63L588.05,64.02L588.94,63.00L589.85,62.50L590.78,62.03L591.73,61.66L592.69,61.32L593.65,60.53L594.62,59.13L595.58,57.55L596.53,56.18L597.45,55.01L598.35,53.99L599.23,53.17L600.09,52.45L600.94,51.85L601.78,51.46L602.63,51.40L603.49,51.66L604.37,52.05L605.27,52.57L606.18,53.23L607.11,54.03L608.05,54.97L608.98,56.07L609.91,57.36L610.83,58.83L611.72,60.44L612.60,62.17L613.45,63.99L614.29,65.88L615.10,67.97L615.89,70.22L616.66,72.53L617.41,74.82L618.15,77.05L618.87,79.26L619.57,81.47L620.26,83.68L620.94,85.90L621.61,87.82L622.27,89.64L622.92,91.48L623.57,93.33L624.20,95.20L624.84,97.08L625.46,98.98L626.08,100.90L626.70,102.82L627.31,104.76L627.93,106.70L628.54,108.66L629.15,110.63L629.76,112.61L630.38,114.60L630.99,116.59L631.60,118.58L632.21,120.57L632.83,122.56L633.45,124.55L634.07,126.55L634.69,128.54L635.32,130.53L635.96,132.51L636.60,134.49L637.25,136.41L637.90,138.26L638.57,140.06L639.24,141.83L639.93,143.58L640.63,145.32L641.33,147.07L642.05,148.85L642.79,150.66L643.54,152.53L644.30,154.45L645.08,156.37L645.88,158.28L646.69,160.18L647.52,162.06L648.37,163.94L649.24,165.79L650.13,167.64L651.04,169.47L651.97,171.30L652.92,173.11L653.89,174.92L654.88,176.76L655.88,178.63L656.90,180.51L657.94,182.39L658.98,184.27L660.04,186.13L661.10,187.97L662.17,189.77L663.24,191.54L664.31,193.30L665.38,195.06L666.45,196.82L667.52,198.57L668.59,200.31L669.66,202.05L670.73,203.77L671.81,205.48L672.88,207.18L673.96,208.85L675.05,210.51L676.14,212.15L677.25,213.76L678.36,215.34L679.49,216.89L680.62,218.36L681.78,219.74L682.95,221.04L684.13,222.29L685.34,223.52L686.57,224.73L687.82,225.94L689.09,227.19L690.39,228.47L691.71,229.76L693.07,231.04L694.45,232.27L695.87,233.43L697.33,234.49L698.82,235.44L700.35,236.36L701.91,237.24L703.52,238.10L705.17,238.95L706.86,239.78L708.57,240.60L710.32,241.42L712.09,242.23L713.88,243.05L715.68,243.87L717.47,244.69L719.26,245.50L721.06,246.32L722.84,247.14L724.62,247.94L726.39,248.74L728.15,249.52L729.90,250.28L731.64,251.03L733.37,251.75L735.10,252.45L736.83,253.12L738.56,253.76L740.29,254.38L742.02,254.97L743.75,255.53L745.49,256.07L747.24,256.57L749.00,257.05L750.77,257.50L752.55,257.92L754.34,258.32L756.14,258.70L757.96,259.05L759.79,259.38L761.63,259.70L763.48,260.00L765.35,260.29L767.23,260.56L769.12,260.83L771.02,261.09L772.93,261.34L774.85,261.59L776.78,261.84L778.71,262.09L780.65,262.33L782.58,262.58L784.51,262.83L786.43,263.08L788.36,263.33L790.28,263.59L792.21,263.85L794.13,264.10L796.06,264.37L797.99,264.63L799.92,264.89L801.85,265.16L803.78,265.42L805.72,265.69L807.64,265.95L809.57,266.21L811.50,266.46L811.50,267.88L809.57,267.63L807.64,267.39L805.72,267.14L803.78,266.89L801.85,266.64L799.92,266.39L797.99,266.15L796.06,265.90L794.13,265.65L792.21,265.41L790.28,265.17L788.36,264.93L786.43,264.70L784.51,264.46L782.58,264.23L780.65,264.00L778.71,263.77L776.78,263.54L774.85,263.32L772.93,263.08L771.02,262.85L769.12,262.61L767.23,262.36L765.35,262.11L763.48,261.84L761.63,261.56L759.79,261.27L757.96,260.95L756.14,260.62L754.34,260.27L752.55,259.90L750.77,259.50L749.00,259.07L747.24,258.62L745.49,258.15L743.75,257.64L742.02,257.10L740.29,256.54L738.56,255.95L736.83,255.32L735.10,254.67L733.37,254.00L731.64,253.30L729.90,252.58L728.15,251.83L726.39,251.07L724.62,250.29L722.84,249.50L721.06,248.71L719.26,247.91L717.47,247.11L715.68,246.32L713.88,245.52L712.09,244.73L710.32,243.95L708.57,243.17L706.86,242.39L705.17,241.61L703.52,240.82L701.91,240.02L700.35,239.21L698.82,238.38L697.33,237.53L695.87,236.74L694.45,236.01L693.07,235.27L691.71,234.49L690.39,233.64L689.09,232.67L687.82,231.55L686.57,230.28L685.34,228.90L684.13,227.44L682.95,225.92L681.78,224.37L680.62,222.83L679.49,221.33L678.36,219.87L677.25,218.37L676.14,216.84L675.05,215.29L673.96,213.71L672.88,212.10L671.81,210.48L670.73,208.83L669.66,207.16L668.59,205.48L667.52,203.79L666.45,202.09L665.38,200.38L664.31,198.67L663.24,196.95L662.17,195.24L661.10,193.57L660.04,191.93L658.98,190.34L657.94,188.76L656.90,187.20L655.88,185.65L654.88,184.08L653.89,182.50L652.92,180.89L651.97,179.27L651.04,177.66L650.13,176.04L649.24,174.42L648.37,172.80L647.52,171.17L646.69,169.53L645.88,167.88L645.08,166.21L644.30,164.53L643.54,162.83L642.79,161.05L642.05,159.19L641.33,157.26L640.63,155.29L639.93,153.28L639.24,151.27L638.57,149.25L637.90,147.25L637.25,145.28L636.60,143.36L635.96,141.48L635.32,139.60L634.69,137.70L634.07,135.80L633.45,133.88L632.83,131.95L632.21,130.01L631.60,128.06L630.99,126.10L630.38,124.13L629.76,122.15L629.15,120.17L628.54,118.18L627.93,116.19L627.31,114.20L626.70,112.20L626.08,110.38L625.46,108.93L624.84,107.58L624.20,106.26L623.57,105.00L622.92,103.78L622.27,102.59L621.61,101.43L620.94,100.28L620.26,99.04L619.57,97.81L618.87,96.54L618.15,95.16L617.41,93.59L616.66,91.98L615.89,90.38L615.10,88.77L614.29,87.17L613.45,85.55L612.60,83.93L611.72,82.31L610.83,80.73L609.91,79.21L608.98,77.79L608.05,76.49L607.11,75.30L606.18,74.22L605.27,73.24L604.37,72.37L603.49,71.59L602.63,70.88L601.78,70.04L600.94,69.14L600.09,68.34L599.23,67.82L598.35,67.66L597.45,67.72L596.53,67.92L595.58,68.17L594.62,68.53L593.65,69.09L592.69,69.90L591.73,70.88L590.78,71.99L589.85,73.26L588.94,74.94L588.05,76.69L587.17,78.48L586.32,80.31L585.49,82.16L584.68,84.04L583.88,85.93L583.10,87.84L582.34,89.76L581.59,91.69L580.85,93.63L580.12,95.59L579.41,97.55L578.71,99.52L578.02,101.50L577.33,103.48L576.66,105.46L575.99,107.43L575.33,109.36L574.67,111.27L574.03,113.16L573.38,115.03L572.75,116.89L572.11,118.74L571.49,120.59L570.86,122.44L570.24,124.30L569.62,126.16L569.01,128.04L568.39,129.94L567.78,131.86L567.17,133.80L566.56,135.76L565.95,137.71L565.34,139.67L564.73,141.62L564.12,143.58L563.52,145.53L562.91,147.48L562.30,149.43L561.69,151.38L561.08,153.32L560.46,155.25L559.85,157.19L559.23,159.11L558.61,161.03L557.99,162.95L557.36,164.86L556.73,166.77L556.10,168.67L555.46,170.56L554.82,172.44L554.17,174.32L553.52,176.19L552.85,178.05L552.19,179.90L551.51,181.75L550.83,183.58L550.14,185.41L549.44,187.22L548.73,189.03L548.02,190.82L547.29,192.61L546.55,194.39L545.80,196.16L545.04,197.92L544.27,199.67L543.48,201.40L542.68,203.13L541.87,204.85L541.04,206.56L540.20,208.26L539.34,209.96L538.47,211.64L537.58,213.31L536.68,214.98L535.76,216.64L534.82,218.29L533.87,219.94L532.90,221.58L531.91,223.21L530.91,224.84L529.89,226.46L528.85,228.09L527.80,229.70L526.73,231.31L525.65,232.92L524.56,234.53L523.45,236.13L522.33,237.72L521.20,239.31L520.06,240.89L518.90,242.47L517.74,244.05L516.56,245.61L515.38,247.17L514.19,248.73L512.98,250.28L511.77,251.82L510.55,253.36L509.33,254.90L508.09,256.43L506.85,257.95L505.60,259.47L504.35,260.98L503.08,262.48L501.82,263.98L500.54,265.46L499.26,266.93L497.98,268.38L496.69,269.82L495.40,271.25L494.10,272.67L492.80,274.09L491.50,275.50Z" fill="#ff8c00" fill-opacity="0.33"/>
<path d="M491.50,275.50L492.80,273.95L494.10,272.39L495.40,270.84L496.69,269.29L497.98,267.74L499.26,266.19L500.54,264.64L501.82,263.09L503.08,261.54L504.35,259.98L505.60,258.43L506.85,256.87L508.09,255.31L509.33,253.74L510.55,252.17L511.77,250.60L512.98,249.02L514.19,247.44L515.38,245.85L516.56,244.26L517.74,242.66L518.90,241.06L520.06,239.45L521.20,237.84L522.33,236.22L523.45,234.59L524.56,232.96L525.65,231.32L526.73,229.67L527.80,228.02L528.85,226.36L529.89,224.70L530.91,223.03L531.91,221.35L532.90,219.66L533.87,217.96L534.82,216.25L535.76,214.53L536.68,212.81L537.58,211.07L538.47,209.32L539.34,207.56L540.20,205.79L541.04,204.01L541.87,202.22L542.68,200.42L543.48,198.61L544.27,196.78L545.04,194.95L545.80,193.11L546.55,191.26L547.29,189.40L548.02,187.53L548.73,185.65L549.44,183.77L550.14,181.87L550.83,179.97L551.51,178.07L552.19,176.15L552.85,174.23L553.52,172.31L554.17,170.38L554.82,168.44L555.46,166.50L556.10,164.56L556.73,162.61L557.36,160.66L557.99,158.70L558.61,156.74L559.23,154.78L559.85,152.81L560.46,150.84L561.08,148.87L561.69,146.89L562.30,144.91L562.91,142.93L563.52,140.95L564.12,138.96L564.73,136.98L565.34,134.99L565.95,133.01L566.56,131.03L567.17,129.05L567.78,127.07L568.39,125.10L569.01,123.13L569.62,121.16L570.24,119.19L570.86,117.23L571.49,115.28L572.11,113.32L572.75,111.37L573.38,109.43L574.03,107.49L574.67,105.56L575.33,103.63L575.99,101.71L576.66,99.80L577.33,97.90L578.02,96.00L578.71,94.12L579.41,92.24L580.12,90.38L580.85,88.53L581.59,86.70L582.34,84.88L583.10,83.09L583.88,81.31L584.68,79.56L585.49,77.84L586.32,76.16L587.17,74.51L588.05,72.91L588.94,71.37L589.85,69.88L590.78,68.48L591.73,67.16L592.69,65.94L593.65,64.84L594.62,63.86L595.58,63.02L596.53,62.32L597.45,61.76L598.35,61.34L599.23,61.04L600.09,60.86L600.94,60.79L601.78,60.84L602.63,60.99L603.49,61.26L604.37,61.65L605.27,62.17L606.18,62.83L607.11,63.63L608.05,64.57L608.98,65.65L609.91,66.84L610.83,68.15L611.72,69.54L612.60,71.02L613.45,72.57L614.29,74.17L615.10,75.82L615.89,77.52L616.66,79.25L617.41,81.02L618.15,82.81L618.87,84.62L619.57,86.46L620.26,88.31L620.94,90.18L621.61,92.07L622.27,93.96L622.92,95.87L623.57,97.79L624.20,99.72L624.84,101.66L625.46,103.60L626.08,105.55L626.70,107.51L627.31,109.48L627.93,111.45L628.54,113.42L629.15,115.40L629.76,117.38L630.38,119.37L630.99,121.35L631.60,123.32L632.21,125.29L632.83,127.26L633.45,129.22L634.07,131.17L634.69,133.12L635.32,135.06L635.96,137.00L636.60,138.92L637.25,140.84L637.90,142.75L638.57,144.66L639.24,146.55L639.93,148.43L640.63,150.30L641.33,152.17L642.05,154.02L642.79,155.85L643.54,157.68L644.30,159.49L645.08,161.29L645.88,163.08L646.69,164.85L647.52,166.62L648.37,168.37L649.24,170.11L650.13,171.84L651.04,173.56L651.97,175.28L652.92,177.00L653.89,178.71L654.88,180.42L655.88,182.14L656.90,183.85L657.94,185.58L658.98,187.30L660.04,189.03L661.10,190.77L662.17,192.51L663.24,194.25L664.31,195.99L665.38,197.72L666.45,199.46L667.52,201.18L668.59,202.90L669.66,204.61L670.73,206.30L671.81,207.98L672.88,209.64L673.96,211.28L675.05,212.90L676.14,214.50L677.25,216.06L678.36,217.60L679.49,219.11L680.62,220.59L681.78,222.03L682.95,223.43L684.13,224.79L685.34,226.11L686.57,227.38L687.82,228.61L689.09,229.80L690.39,230.94L691.71,232.04L693.07,233.09L694.45,234.10L695.87,235.07L697.33,236.01L698.82,236.91L700.35,237.78L701.91,238.63L703.52,239.46L705.17,240.28L706.86,241.08L708.57,241.88L710.32,242.68L712.09,243.48L713.88,244.29L715.68,245.09L717.47,245.90L719.26,246.71L721.06,247.52L722.84,248.32L724.62,249.12L726.39,249.91L728.15,250.68L729.90,251.43L731.64,252.16L733.37,252.87L735.10,253.56L736.83,254.22L738.56,254.86L740.29,255.46L742.02,256.04L743.75,256.59L745.49,257.11L747.24,257.60L749.00,258.06L750.77,258.50L752.55,258.91L754.34,259.30L756.14,259.66L757.96,260.00L759.79,260.32L761.63,260.63L763.48,260.92L765.35,261.20L767.23,261.46L769.12,261.72L771.02,261.97L772.93,262.21L774.85,262.45L776.78,262.69L778.71,262.93L780.65,263.17L782.58,263.41L784.51,263.65L786.43,263.89L788.36,264.13L790.28,264.38L792.21,264.63L794.13,264.88L796.06,265.13L797.99,265.39L799.92,265.64L801.85,265.90L803.78,266.16L805.72,266.41L807.64,266.67L809.57,266.92L811.50,267.17" fill="none" stroke="#ff8c00" stroke-width="1.35" stroke-linejoin="round"/>
</g>
<text x="335.7" y="39.7" font-size="16.35" text-anchor="end">H=0.002</text>
<rect x="345.2" y="29.8" width="24.9" height="8.2" fill="#ff0000" fill-opacity="0.33"/>
<text x="335.7" y="60.2" font-size="16.35" text-anchor="end">H=0.003</text>
<rect x="345.2" y="50.3" width="24.9" height="8.2" fill="#008040" fill-opacity="0.33"/>
<text x="335.7" y="80.7" font-size="16.35" text-anchor="end">H=0.004</text>
<rect x="345.2" y="70.8" width="24.9" height="8.2" fill="#0000cd" fill-opacity="0.33"/>
<text x="335.7" y="101.2" font-size="16.35" text-anchor="end">H=0.006</text>
<rect x="345.2" y="91.3" width="24.9" height="8.2" fill="#9400d3" fill-opacity="0.33"/>
<text x="335.7" y="121.7" font-size="16.35" text-anchor="end">H=0.01</text>
<rect x="345.2" y="111.8" width="24.9" height="8.2" fill="#ff8c00" fill-opacity="0.33"/>
<text transform="translate(20.0,174.2) rotate(-90)">ρ<tspan font-size="12.8" dy="4.3">AA</tspan><tspan dy="-4.3"> / χ</tspan><tspan font-size="12.8" dy="4.3">0</tspan></text>
<text transform="translate(435.0,174.2) rotate(-90)">ρ<tspan font-size="12.8" dy="4.3">AA</tspan><tspan dy="-4.3"> / χ</tspan><tspan font-size="12.8" dy="4.3">0</tspan></text>
<text x="226.7" y="322.3" textLength="10.6" lengthAdjust="spacingAndGlyphs">ω</text>
<text x="575.2" y="322.3" font-size="16" textLength="10.6" lengthAdjust="spacingAndGlyphs">ω</text>
<text x="591.4" y="322.3" font-size="16">·</text>
<text x="602.4" y="322.3" font-size="16">(</text>
<text x="608.2" y="322.3" font-size="16">H</text>
<text x="624.6" y="322.3" font-size="16">/</text>
<text x="633.6" y="322.3" font-size="16">H</text>
<text x="644.8" y="326.0" font-size="12.8">ref</text>
<text x="662.0" y="322.3" font-size="16">)</text>
<text x="670.6" y="317.3" font-size="12.0">1.47</text>
<text x="699.9" y="317.3" font-size="12.8">·</text>
<text x="709.0" y="317.3" font-size="12.8">ν</text>
<text x="715.8" y="319.5" font-size="10.2">c</text>
<text x="716" y="110.1" font-size="18">z=0</text>
<text x="548.5" y="247.9" font-size="18.4">H</text>
<text x="561.6" y="251.4" font-size="14.7">ref</text>
<text x="584.2" y="247.9" font-size="18.4">=</text>
<text x="600.2" y="247.9" font-size="18.5">0.002</text>
</svg>
</body></html>
